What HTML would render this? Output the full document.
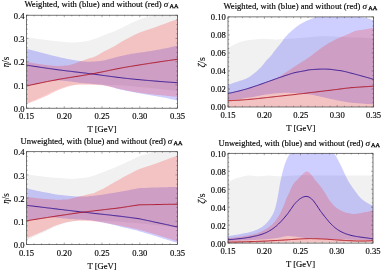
<!DOCTYPE html>
<html><head><meta charset="utf-8"><title>plots</title>
<style>
html,body{margin:0;padding:0;background:#fff;}
svg{display:block;will-change:transform;}
text{font-family:"Liberation Serif",serif;fill:#000;stroke:#000;stroke-width:0.14px;}
.tl{font-size:8.6px;}
.xl{font-size:8.6px;}
.yl{font-size:10px;stroke-width:0.1px;}
.tt{font-size:8.45px;}
.sg{font-size:9px;font-style:italic;}
.aa{font-size:6px;stroke-width:0.25px;}
</style></head><body>
<svg width="382" height="272" viewBox="0 0 382 272">
<rect width="382" height="272" fill="#fff"/>
<clipPath id="c26515"><rect x="26.5" y="15.2" width="151.0" height="93.0"/></clipPath>
<g clip-path="url(#c26515)">
<path d="M26.5,37.1 L27.5,37.3 L28.4,37.4 L29.4,37.6 L30.3,37.7 L31.3,37.9 L32.2,38.0 L33.2,38.2 L34.1,38.3 L35.1,38.5 L36.0,38.6 L37.0,38.8 L37.9,38.9 L38.9,39.0 L39.8,39.2 L40.8,39.3 L41.7,39.4 L42.7,39.6 L43.7,39.7 L44.6,39.8 L45.6,39.9 L46.5,40.1 L47.5,40.2 L48.4,40.3 L49.4,40.4 L50.3,40.5 L51.3,40.6 L52.2,40.7 L53.2,40.9 L54.1,41.0 L55.1,41.1 L56.0,41.2 L57.0,41.3 L57.9,41.3 L58.9,41.4 L59.8,41.5 L60.8,41.6 L61.8,41.7 L62.7,41.8 L63.7,41.9 L64.6,42.0 L65.6,42.1 L66.5,42.2 L67.5,42.3 L68.4,42.4 L69.4,42.4 L70.3,42.5 L71.3,42.5 L72.2,42.5 L73.2,42.5 L74.1,42.5 L75.1,42.4 L76.0,42.4 L77.0,42.3 L78.0,42.2 L78.9,42.1 L79.9,42.0 L80.8,41.9 L81.8,41.8 L82.7,41.7 L83.7,41.5 L84.6,41.4 L85.6,41.3 L86.5,41.1 L87.5,40.9 L88.4,40.7 L89.4,40.4 L90.3,40.2 L91.3,39.9 L92.2,39.6 L93.2,39.3 L94.2,39.1 L95.1,38.7 L96.1,38.4 L97.0,38.0 L98.0,37.7 L98.9,37.3 L99.9,36.9 L100.8,36.5 L101.8,36.0 L102.7,35.6 L103.7,35.3 L104.6,34.9 L105.6,34.5 L106.5,34.2 L107.5,33.8 L108.4,33.5 L109.4,33.1 L110.3,32.8 L111.3,32.4 L112.3,32.1 L113.2,31.7 L114.2,31.3 L115.1,30.9 L116.1,30.5 L117.0,30.1 L118.0,29.6 L118.9,29.2 L119.9,28.8 L120.8,28.3 L121.8,27.9 L122.7,27.4 L123.7,26.9 L124.6,26.5 L125.6,26.0 L126.5,25.5 L127.5,25.1 L128.5,24.6 L129.4,24.1 L130.4,23.6 L131.3,23.1 L132.3,22.6 L133.2,22.2 L134.2,21.8 L135.1,21.3 L136.1,20.9 L137.0,20.5 L138.0,20.1 L138.9,19.8 L139.9,19.4 L140.8,19.1 L141.8,18.7 L142.7,18.4 L143.7,18.1 L144.7,17.8 L145.6,17.5 L146.6,17.3 L147.5,17.0 L148.5,16.7 L149.4,16.3 L150.4,16.0 L151.3,15.7 L152.3,15.4 L153.2,15.1 L154.2,14.8 L155.1,14.4 L156.1,14.1 L157.0,13.7 L158.0,13.4 L158.9,13.0 L159.9,12.7 L160.8,12.3 L161.8,12.0 L162.8,11.7 L163.7,11.4 L164.7,11.1 L165.6,10.8 L166.6,10.6 L167.5,10.3 L168.5,10.1 L169.4,9.8 L170.4,9.6 L171.3,9.4 L172.3,9.1 L173.2,8.9 L174.2,8.7 L175.1,8.5 L176.1,8.3 L177.0,8.2 L178.0,8.0 L178.0,91.1 L177.0,91.0 L176.1,90.9 L175.1,90.8 L174.2,90.6 L173.2,90.5 L172.3,90.4 L171.3,90.3 L170.4,90.2 L169.4,90.1 L168.5,90.0 L167.5,89.9 L166.6,89.8 L165.6,89.7 L164.7,89.5 L163.7,89.4 L162.8,89.3 L161.8,89.2 L160.8,89.1 L159.9,89.0 L158.9,88.9 L158.0,88.8 L157.0,88.7 L156.1,88.6 L155.1,88.5 L154.2,88.4 L153.2,88.3 L152.3,88.2 L151.3,88.1 L150.4,88.0 L149.4,87.9 L148.5,87.8 L147.5,87.7 L146.6,87.7 L145.6,87.6 L144.7,87.5 L143.7,87.4 L142.7,87.3 L141.8,87.2 L140.8,87.1 L139.9,87.0 L138.9,86.9 L138.0,86.8 L137.0,86.7 L136.1,86.6 L135.1,86.5 L134.2,86.4 L133.2,86.3 L132.3,86.2 L131.3,86.1 L130.4,86.0 L129.4,86.0 L128.5,85.9 L127.5,85.8 L126.5,85.7 L125.6,85.7 L124.6,85.6 L123.7,85.5 L122.7,85.5 L121.8,85.4 L120.8,85.3 L119.9,85.3 L118.9,85.2 L118.0,85.2 L117.0,85.2 L116.1,85.1 L115.1,85.1 L114.2,85.0 L113.2,85.0 L112.3,85.0 L111.3,84.9 L110.3,84.9 L109.4,84.9 L108.4,84.8 L107.5,84.8 L106.5,84.8 L105.6,84.7 L104.6,84.7 L103.7,84.7 L102.7,84.6 L101.8,84.6 L100.8,84.5 L99.9,84.5 L98.9,84.5 L98.0,84.4 L97.0,84.4 L96.1,84.3 L95.1,84.3 L94.2,84.2 L93.2,84.2 L92.2,84.1 L91.3,84.1 L90.3,84.0 L89.4,84.0 L88.4,83.9 L87.5,83.9 L86.5,83.8 L85.6,83.8 L84.6,83.8 L83.7,83.8 L82.7,83.9 L81.8,84.0 L80.8,84.1 L79.9,84.2 L78.9,84.3 L78.0,84.4 L77.0,84.5 L76.0,84.6 L75.1,84.7 L74.1,84.8 L73.2,84.9 L72.2,85.1 L71.3,85.2 L70.3,85.4 L69.4,85.6 L68.4,85.8 L67.5,86.1 L66.5,86.3 L65.6,86.6 L64.6,86.9 L63.7,87.2 L62.7,87.5 L61.8,87.8 L60.8,88.2 L59.8,88.5 L58.9,88.9 L57.9,89.2 L57.0,89.6 L56.0,90.0 L55.1,90.3 L54.1,90.7 L53.2,91.2 L52.2,91.6 L51.3,92.1 L50.3,92.6 L49.4,93.1 L48.4,93.6 L47.5,94.1 L46.5,94.6 L45.6,95.1 L44.6,95.5 L43.7,95.9 L42.7,96.4 L41.7,96.8 L40.8,97.3 L39.8,97.7 L38.9,98.1 L37.9,98.5 L37.0,99.0 L36.0,99.4 L35.1,99.8 L34.1,100.3 L33.2,100.7 L32.2,101.1 L31.3,101.6 L30.3,102.0 L29.4,102.4 L28.4,102.9 L27.5,103.3 L26.5,103.7Z" fill="#f1f1f1"/>
<path d="M26.5,48.7 L27.5,49.0 L28.4,49.2 L29.4,49.5 L30.3,49.7 L31.3,50.0 L32.2,50.3 L33.2,50.5 L34.1,50.8 L35.1,51.0 L36.0,51.3 L37.0,51.5 L37.9,51.8 L38.9,52.0 L39.8,52.3 L40.8,52.5 L41.7,52.8 L42.7,53.0 L43.7,53.3 L44.6,53.5 L45.6,53.8 L46.5,54.0 L47.5,54.2 L48.4,54.5 L49.4,54.7 L50.3,55.0 L51.3,55.2 L52.2,55.5 L53.2,55.7 L54.1,55.9 L55.1,56.1 L56.0,56.4 L57.0,56.6 L57.9,56.8 L58.9,57.0 L59.8,57.2 L60.8,57.4 L61.8,57.7 L62.7,57.9 L63.7,58.1 L64.6,58.3 L65.6,58.5 L66.5,58.7 L67.5,58.9 L68.4,59.1 L69.4,59.3 L70.3,59.4 L71.3,59.6 L72.2,59.8 L73.2,59.9 L74.1,60.1 L75.1,60.2 L76.0,60.4 L77.0,60.5 L78.0,60.7 L78.9,60.8 L79.9,61.0 L80.8,61.1 L81.8,61.2 L82.7,61.4 L83.7,61.5 L84.6,61.5 L85.6,61.6 L86.5,61.7 L87.5,61.7 L88.4,61.7 L89.4,61.7 L90.3,61.7 L91.3,61.6 L92.2,61.6 L93.2,61.5 L94.2,61.5 L95.1,61.4 L96.1,61.3 L97.0,61.3 L98.0,61.2 L98.9,61.1 L99.9,61.0 L100.8,60.9 L101.8,60.8 L102.7,60.6 L103.7,60.4 L104.6,60.2 L105.6,59.9 L106.5,59.7 L107.5,59.4 L108.4,59.2 L109.4,58.9 L110.3,58.7 L111.3,58.5 L112.3,58.2 L113.2,58.0 L114.2,57.7 L115.1,57.5 L116.1,57.3 L117.0,57.0 L118.0,56.8 L118.9,56.6 L119.9,56.3 L120.8,56.1 L121.8,55.9 L122.7,55.6 L123.7,55.4 L124.6,55.2 L125.6,55.0 L126.5,54.8 L127.5,54.6 L128.5,54.4 L129.4,54.2 L130.4,54.0 L131.3,53.8 L132.3,53.7 L133.2,53.5 L134.2,53.4 L135.1,53.2 L136.1,53.1 L137.0,52.9 L138.0,52.8 L138.9,52.7 L139.9,52.6 L140.8,52.4 L141.8,52.3 L142.7,52.2 L143.7,52.0 L144.7,51.9 L145.6,51.8 L146.6,51.6 L147.5,51.5 L148.5,51.3 L149.4,51.2 L150.4,51.0 L151.3,50.9 L152.3,50.7 L153.2,50.5 L154.2,50.4 L155.1,50.2 L156.1,50.0 L157.0,49.9 L158.0,49.7 L158.9,49.5 L159.9,49.4 L160.8,49.2 L161.8,49.0 L162.8,48.8 L163.7,48.6 L164.7,48.5 L165.6,48.3 L166.6,48.1 L167.5,47.9 L168.5,47.7 L169.4,47.5 L170.4,47.2 L171.3,47.0 L172.3,46.8 L173.2,46.6 L174.2,46.4 L175.1,46.1 L176.1,45.9 L177.0,45.6 L178.0,45.4 L178.0,100.8 L177.0,100.6 L176.1,100.3 L175.1,100.1 L174.2,99.8 L173.2,99.6 L172.3,99.4 L171.3,99.2 L170.4,98.9 L169.4,98.7 L168.5,98.5 L167.5,98.3 L166.6,98.1 L165.6,97.9 L164.7,97.8 L163.7,97.6 L162.8,97.4 L161.8,97.2 L160.8,97.1 L159.9,96.9 L158.9,96.7 L158.0,96.6 L157.0,96.4 L156.1,96.3 L155.1,96.1 L154.2,95.9 L153.2,95.8 L152.3,95.6 L151.3,95.4 L150.4,95.2 L149.4,95.1 L148.5,94.9 L147.5,94.7 L146.6,94.6 L145.6,94.4 L144.7,94.2 L143.7,94.1 L142.7,93.9 L141.8,93.7 L140.8,93.6 L139.9,93.4 L138.9,93.2 L138.0,93.0 L137.0,92.9 L136.1,92.7 L135.1,92.5 L134.2,92.3 L133.2,92.2 L132.3,92.0 L131.3,91.8 L130.4,91.6 L129.4,91.5 L128.5,91.3 L127.5,91.1 L126.5,90.9 L125.6,90.7 L124.6,90.5 L123.7,90.3 L122.7,90.1 L121.8,89.9 L120.8,89.7 L119.9,89.5 L118.9,89.2 L118.0,89.0 L117.0,88.7 L116.1,88.4 L115.1,88.1 L114.2,87.7 L113.2,87.4 L112.3,87.2 L111.3,86.9 L110.3,86.6 L109.4,86.4 L108.4,86.1 L107.5,85.9 L106.5,85.7 L105.6,85.5 L104.6,85.3 L103.7,85.1 L102.7,84.9 L101.8,84.8 L100.8,84.7 L99.9,84.6 L98.9,84.5 L98.0,84.4 L97.0,84.3 L96.1,84.2 L95.1,84.1 L94.2,84.0 L93.2,84.0 L92.2,83.9 L91.3,83.8 L90.3,83.7 L89.4,83.6 L88.4,83.6 L87.5,83.5 L86.5,83.4 L85.6,83.4 L84.6,83.3 L83.7,83.2 L82.7,83.1 L81.8,83.0 L80.8,83.0 L79.9,82.9 L78.9,82.8 L78.0,82.6 L77.0,82.5 L76.0,82.3 L75.1,82.2 L74.1,82.0 L73.2,81.9 L72.2,81.7 L71.3,81.6 L70.3,81.5 L69.4,81.4 L68.4,81.3 L67.5,81.2 L66.5,81.1 L65.6,81.0 L64.6,80.9 L63.7,80.8 L62.7,80.7 L61.8,80.6 L60.8,80.5 L59.8,80.5 L58.9,80.5 L57.9,80.5 L57.0,80.6 L56.0,80.6 L55.1,80.7 L54.1,80.7 L53.2,80.8 L52.2,80.9 L51.3,81.0 L50.3,81.1 L49.4,81.3 L48.4,81.4 L47.5,81.6 L46.5,81.8 L45.6,82.0 L44.6,82.3 L43.7,82.5 L42.7,82.7 L41.7,82.9 L40.8,83.1 L39.8,83.3 L38.9,83.5 L37.9,83.7 L37.0,83.9 L36.0,84.1 L35.1,84.3 L34.1,84.5 L33.2,84.7 L32.2,84.9 L31.3,85.1 L30.3,85.3 L29.4,85.6 L28.4,85.8 L27.5,86.0 L26.5,86.2Z" fill="#0000ff" fill-opacity="0.19"/>
<path d="M26.5,61.8 L27.5,62.0 L28.4,62.2 L29.4,62.4 L30.3,62.6 L31.3,62.7 L32.2,62.9 L33.2,63.1 L34.1,63.3 L35.1,63.4 L36.0,63.6 L37.0,63.8 L37.9,63.9 L38.9,64.0 L39.8,64.2 L40.8,64.3 L41.7,64.4 L42.7,64.6 L43.7,64.7 L44.6,64.8 L45.6,64.9 L46.5,65.0 L47.5,65.2 L48.4,65.3 L49.4,65.4 L50.3,65.5 L51.3,65.6 L52.2,65.7 L53.2,65.7 L54.1,65.8 L55.1,65.8 L56.0,65.9 L57.0,65.9 L57.9,65.9 L58.9,65.9 L59.8,65.9 L60.8,65.8 L61.8,65.8 L62.7,65.7 L63.7,65.7 L64.6,65.6 L65.6,65.6 L66.5,65.5 L67.5,65.4 L68.4,65.3 L69.4,65.1 L70.3,64.9 L71.3,64.6 L72.2,64.3 L73.2,64.0 L74.1,63.7 L75.1,63.3 L76.0,62.9 L77.0,62.6 L78.0,62.2 L78.9,61.9 L79.9,61.6 L80.8,61.2 L81.8,60.9 L82.7,60.6 L83.7,60.2 L84.6,59.9 L85.6,59.5 L86.5,59.2 L87.5,58.9 L88.4,58.6 L89.4,58.3 L90.3,58.0 L91.3,57.8 L92.2,57.5 L93.2,57.2 L94.2,56.8 L95.1,56.4 L96.1,56.0 L97.0,55.5 L98.0,55.0 L98.9,54.4 L99.9,53.8 L100.8,53.3 L101.8,52.7 L102.7,52.2 L103.7,51.6 L104.6,51.1 L105.6,50.6 L106.5,50.2 L107.5,49.7 L108.4,49.2 L109.4,48.8 L110.3,48.3 L111.3,47.8 L112.3,47.3 L113.2,46.8 L114.2,46.3 L115.1,45.8 L116.1,45.2 L117.0,44.6 L118.0,44.0 L118.9,43.4 L119.9,42.8 L120.8,42.2 L121.8,41.6 L122.7,41.0 L123.7,40.5 L124.6,40.0 L125.6,39.4 L126.5,39.0 L127.5,38.5 L128.5,38.0 L129.4,37.5 L130.4,37.0 L131.3,36.5 L132.3,36.0 L133.2,35.5 L134.2,35.1 L135.1,34.6 L136.1,34.1 L137.0,33.7 L138.0,33.2 L138.9,32.8 L139.9,32.4 L140.8,32.0 L141.8,31.7 L142.7,31.4 L143.7,31.0 L144.7,30.7 L145.6,30.4 L146.6,30.1 L147.5,29.8 L148.5,29.5 L149.4,29.2 L150.4,28.9 L151.3,28.5 L152.3,28.2 L153.2,27.9 L154.2,27.6 L155.1,27.2 L156.1,26.9 L157.0,26.5 L158.0,26.2 L158.9,25.8 L159.9,25.5 L160.8,25.1 L161.8,24.8 L162.8,24.4 L163.7,24.1 L164.7,23.7 L165.6,23.4 L166.6,23.0 L167.5,22.7 L168.5,22.3 L169.4,22.0 L170.4,21.6 L171.3,21.3 L172.3,20.9 L173.2,20.6 L174.2,20.2 L175.1,19.9 L176.1,19.5 L177.0,19.2 L178.0,18.8 L178.0,97.0 L177.0,96.9 L176.1,96.8 L175.1,96.7 L174.2,96.6 L173.2,96.5 L172.3,96.4 L171.3,96.3 L170.4,96.2 L169.4,96.1 L168.5,96.0 L167.5,95.9 L166.6,95.8 L165.6,95.7 L164.7,95.6 L163.7,95.5 L162.8,95.4 L161.8,95.3 L160.8,95.2 L159.9,95.1 L158.9,95.0 L158.0,95.0 L157.0,94.9 L156.1,94.8 L155.1,94.7 L154.2,94.6 L153.2,94.5 L152.3,94.4 L151.3,94.3 L150.4,94.1 L149.4,94.0 L148.5,93.9 L147.5,93.8 L146.6,93.7 L145.6,93.6 L144.7,93.4 L143.7,93.3 L142.7,93.2 L141.8,93.0 L140.8,92.9 L139.9,92.8 L138.9,92.6 L138.0,92.5 L137.0,92.3 L136.1,92.2 L135.1,92.0 L134.2,91.9 L133.2,91.7 L132.3,91.5 L131.3,91.3 L130.4,91.2 L129.4,91.0 L128.5,90.8 L127.5,90.6 L126.5,90.4 L125.6,90.2 L124.6,90.0 L123.7,89.8 L122.7,89.6 L121.8,89.4 L120.8,89.2 L119.9,89.0 L118.9,88.8 L118.0,88.6 L117.0,88.4 L116.1,88.2 L115.1,87.9 L114.2,87.7 L113.2,87.5 L112.3,87.3 L111.3,87.1 L110.3,86.9 L109.4,86.7 L108.4,86.5 L107.5,86.3 L106.5,86.1 L105.6,85.9 L104.6,85.7 L103.7,85.5 L102.7,85.4 L101.8,85.3 L100.8,85.2 L99.9,85.2 L98.9,85.1 L98.0,85.1 L97.0,85.0 L96.1,85.0 L95.1,84.9 L94.2,84.9 L93.2,84.9 L92.2,84.8 L91.3,84.8 L90.3,84.8 L89.4,84.8 L88.4,84.8 L87.5,84.8 L86.5,84.8 L85.6,84.7 L84.6,84.7 L83.7,84.7 L82.7,84.7 L81.8,84.7 L80.8,84.7 L79.9,84.7 L78.9,84.7 L78.0,84.8 L77.0,84.8 L76.0,85.0 L75.1,85.1 L74.1,85.3 L73.2,85.4 L72.2,85.6 L71.3,85.8 L70.3,86.0 L69.4,86.3 L68.4,86.5 L67.5,86.8 L66.5,87.1 L65.6,87.4 L64.6,87.8 L63.7,88.1 L62.7,88.5 L61.8,88.8 L60.8,89.1 L59.8,89.5 L58.9,89.9 L57.9,90.3 L57.0,90.7 L56.0,91.2 L55.1,91.6 L54.1,92.1 L53.2,92.6 L52.2,93.0 L51.3,93.5 L50.3,94.0 L49.4,94.5 L48.4,95.0 L47.5,95.4 L46.5,95.9 L45.6,96.3 L44.6,96.7 L43.7,97.2 L42.7,97.6 L41.7,98.0 L40.8,98.4 L39.8,98.8 L38.9,99.2 L37.9,99.6 L37.0,100.0 L36.0,100.4 L35.1,100.8 L34.1,101.1 L33.2,101.5 L32.2,101.8 L31.3,102.2 L30.3,102.5 L29.4,102.8 L28.4,103.2 L27.5,103.5 L26.5,103.8Z" fill="#ff0000" fill-opacity="0.19"/>
<path d="M26.5,65.1 L27.5,65.3 L28.4,65.4 L29.4,65.6 L30.3,65.7 L31.3,65.9 L32.2,66.0 L33.2,66.2 L34.1,66.3 L35.1,66.5 L36.0,66.6 L37.0,66.7 L37.9,66.9 L38.9,67.0 L39.8,67.2 L40.8,67.3 L41.7,67.5 L42.7,67.6 L43.7,67.7 L44.6,67.9 L45.6,68.0 L46.5,68.2 L47.5,68.3 L48.4,68.4 L49.4,68.6 L50.3,68.7 L51.3,68.8 L52.2,69.0 L53.2,69.1 L54.1,69.2 L55.1,69.4 L56.0,69.5 L57.0,69.6 L57.9,69.8 L58.9,69.9 L59.8,70.0 L60.8,70.1 L61.8,70.3 L62.7,70.4 L63.7,70.5 L64.6,70.6 L65.6,70.7 L66.5,70.9 L67.5,71.0 L68.4,71.1 L69.4,71.2 L70.3,71.3 L71.3,71.4 L72.2,71.5 L73.2,71.7 L74.1,71.8 L75.1,71.9 L76.0,72.0 L77.0,72.1 L78.0,72.2 L78.9,72.3 L79.9,72.5 L80.8,72.6 L81.8,72.7 L82.7,72.8 L83.7,72.9 L84.6,73.0 L85.6,73.1 L86.5,73.2 L87.5,73.4 L88.4,73.5 L89.4,73.6 L90.3,73.7 L91.3,73.8 L92.2,74.0 L93.2,74.1 L94.2,74.2 L95.1,74.3 L96.1,74.5 L97.0,74.6 L98.0,74.7 L98.9,74.8 L99.9,75.0 L100.8,75.1 L101.8,75.2 L102.7,75.4 L103.7,75.5 L104.6,75.6 L105.6,75.7 L106.5,75.9 L107.5,76.0 L108.4,76.1 L109.4,76.3 L110.3,76.4 L111.3,76.5 L112.3,76.6 L113.2,76.8 L114.2,76.9 L115.1,77.0 L116.1,77.1 L117.0,77.3 L118.0,77.4 L118.9,77.5 L119.9,77.6 L120.8,77.7 L121.8,77.8 L122.7,78.0 L123.7,78.1 L124.6,78.2 L125.6,78.3 L126.5,78.4 L127.5,78.5 L128.5,78.6 L129.4,78.7 L130.4,78.8 L131.3,78.9 L132.3,79.0 L133.2,79.1 L134.2,79.2 L135.1,79.3 L136.1,79.4 L137.0,79.5 L138.0,79.6 L138.9,79.6 L139.9,79.7 L140.8,79.8 L141.8,79.9 L142.7,80.0 L143.7,80.1 L144.7,80.2 L145.6,80.3 L146.6,80.3 L147.5,80.4 L148.5,80.5 L149.4,80.6 L150.4,80.7 L151.3,80.7 L152.3,80.8 L153.2,80.9 L154.2,81.0 L155.1,81.1 L156.1,81.1 L157.0,81.2 L158.0,81.3 L158.9,81.4 L159.9,81.5 L160.8,81.5 L161.8,81.6 L162.8,81.7 L163.7,81.7 L164.7,81.8 L165.6,81.9 L166.6,82.0 L167.5,82.0 L168.5,82.1 L169.4,82.2 L170.4,82.2 L171.3,82.3 L172.3,82.4 L173.2,82.4 L174.2,82.5 L175.1,82.6 L176.1,82.6 L177.0,82.7 L178.0,82.7" fill="none" stroke="#2c1090" stroke-width="0.9"/>
<path d="M26.5,86.0 L27.5,85.8 L28.4,85.6 L29.4,85.4 L30.3,85.1 L31.3,84.9 L32.2,84.7 L33.2,84.5 L34.1,84.3 L35.1,84.1 L36.0,83.9 L37.0,83.7 L37.9,83.5 L38.9,83.3 L39.8,83.1 L40.8,82.9 L41.7,82.7 L42.7,82.5 L43.7,82.3 L44.6,82.1 L45.6,81.9 L46.5,81.7 L47.5,81.5 L48.4,81.3 L49.4,81.2 L50.3,81.0 L51.3,80.8 L52.2,80.6 L53.2,80.4 L54.1,80.2 L55.1,80.1 L56.0,79.9 L57.0,79.7 L57.9,79.5 L58.9,79.3 L59.8,79.2 L60.8,79.0 L61.8,78.8 L62.7,78.7 L63.7,78.5 L64.6,78.4 L65.6,78.2 L66.5,78.0 L67.5,77.9 L68.4,77.7 L69.4,77.6 L70.3,77.4 L71.3,77.3 L72.2,77.1 L73.2,77.0 L74.1,76.8 L75.1,76.7 L76.0,76.5 L77.0,76.4 L78.0,76.2 L78.9,76.1 L79.9,75.9 L80.8,75.8 L81.8,75.6 L82.7,75.5 L83.7,75.3 L84.6,75.1 L85.6,75.0 L86.5,74.8 L87.5,74.7 L88.4,74.5 L89.4,74.3 L90.3,74.2 L91.3,74.0 L92.2,73.8 L93.2,73.6 L94.2,73.5 L95.1,73.3 L96.1,73.1 L97.0,72.9 L98.0,72.7 L98.9,72.5 L99.9,72.3 L100.8,72.2 L101.8,72.0 L102.7,71.8 L103.7,71.6 L104.6,71.4 L105.6,71.2 L106.5,71.0 L107.5,70.8 L108.4,70.6 L109.4,70.4 L110.3,70.2 L111.3,70.0 L112.3,69.8 L113.2,69.6 L114.2,69.4 L115.1,69.2 L116.1,69.0 L117.0,68.8 L118.0,68.6 L118.9,68.5 L119.9,68.3 L120.8,68.1 L121.8,67.9 L122.7,67.7 L123.7,67.6 L124.6,67.4 L125.6,67.2 L126.5,67.1 L127.5,66.9 L128.5,66.7 L129.4,66.6 L130.4,66.4 L131.3,66.3 L132.3,66.1 L133.2,66.0 L134.2,65.8 L135.1,65.6 L136.1,65.5 L137.0,65.3 L138.0,65.2 L138.9,65.0 L139.9,64.9 L140.8,64.7 L141.8,64.6 L142.7,64.4 L143.7,64.3 L144.7,64.1 L145.6,64.0 L146.6,63.8 L147.5,63.7 L148.5,63.5 L149.4,63.4 L150.4,63.2 L151.3,63.1 L152.3,62.9 L153.2,62.8 L154.2,62.7 L155.1,62.5 L156.1,62.4 L157.0,62.2 L158.0,62.1 L158.9,61.9 L159.9,61.8 L160.8,61.6 L161.8,61.5 L162.8,61.4 L163.7,61.2 L164.7,61.1 L165.6,60.9 L166.6,60.8 L167.5,60.7 L168.5,60.5 L169.4,60.4 L170.4,60.3 L171.3,60.1 L172.3,60.0 L173.2,59.9 L174.2,59.7 L175.1,59.6 L176.1,59.5 L177.0,59.3 L178.0,59.2" fill="none" stroke="#aa0a18" stroke-width="0.9"/>
</g>
<rect x="26.5" y="15.2" width="151.0" height="93.0" fill="none" stroke="#3a3a3a" stroke-width="0.7"/>
<path d="M26.50,108.2 v-2.0 M26.50,15.2 v2.0 M34.05,108.2 v-1.2 M34.05,15.2 v1.2 M41.60,108.2 v-1.2 M41.60,15.2 v1.2 M49.15,108.2 v-1.2 M49.15,15.2 v1.2 M56.70,108.2 v-1.2 M56.70,15.2 v1.2 M64.25,108.2 v-2.0 M64.25,15.2 v2.0 M71.80,108.2 v-1.2 M71.80,15.2 v1.2 M79.35,108.2 v-1.2 M79.35,15.2 v1.2 M86.90,108.2 v-1.2 M86.90,15.2 v1.2 M94.45,108.2 v-1.2 M94.45,15.2 v1.2 M102.00,108.2 v-2.0 M102.00,15.2 v2.0 M109.55,108.2 v-1.2 M109.55,15.2 v1.2 M117.10,108.2 v-1.2 M117.10,15.2 v1.2 M124.65,108.2 v-1.2 M124.65,15.2 v1.2 M132.20,108.2 v-1.2 M132.20,15.2 v1.2 M139.75,108.2 v-2.0 M139.75,15.2 v2.0 M147.30,108.2 v-1.2 M147.30,15.2 v1.2 M154.85,108.2 v-1.2 M154.85,15.2 v1.2 M162.40,108.2 v-1.2 M162.40,15.2 v1.2 M169.95,108.2 v-1.2 M169.95,15.2 v1.2 M177.50,108.2 v-2.0 M177.50,15.2 v2.0 M26.5,108.20 h2.0 M177.5,108.20 h-2.0 M26.5,103.55 h1.2 M177.5,103.55 h-1.2 M26.5,98.90 h1.2 M177.5,98.90 h-1.2 M26.5,94.25 h1.2 M177.5,94.25 h-1.2 M26.5,89.60 h1.2 M177.5,89.60 h-1.2 M26.5,84.95 h2.0 M177.5,84.95 h-2.0 M26.5,80.30 h1.2 M177.5,80.30 h-1.2 M26.5,75.65 h1.2 M177.5,75.65 h-1.2 M26.5,71.00 h1.2 M177.5,71.00 h-1.2 M26.5,66.35 h1.2 M177.5,66.35 h-1.2 M26.5,61.70 h2.0 M177.5,61.70 h-2.0 M26.5,57.05 h1.2 M177.5,57.05 h-1.2 M26.5,52.40 h1.2 M177.5,52.40 h-1.2 M26.5,47.75 h1.2 M177.5,47.75 h-1.2 M26.5,43.10 h1.2 M177.5,43.10 h-1.2 M26.5,38.45 h2.0 M177.5,38.45 h-2.0 M26.5,33.80 h1.2 M177.5,33.80 h-1.2 M26.5,29.15 h1.2 M177.5,29.15 h-1.2 M26.5,24.50 h1.2 M177.5,24.50 h-1.2 M26.5,19.85 h1.2 M177.5,19.85 h-1.2 M26.5,15.20 h2.0 M177.5,15.20 h-2.0" stroke="#333" stroke-width="0.4" fill="none"/>
<text x="24.6" y="111.9" text-anchor="end" class="tl">0.0</text>
<text x="24.6" y="88.7" text-anchor="end" class="tl">0.1</text>
<text x="24.6" y="65.4" text-anchor="end" class="tl">0.2</text>
<text x="24.6" y="42.2" text-anchor="end" class="tl">0.3</text>
<text x="24.6" y="18.9" text-anchor="end" class="tl">0.4</text>
<text x="26.5" y="119.2" text-anchor="middle" class="tl">0.15</text>
<text x="64.2" y="119.2" text-anchor="middle" class="tl">0.20</text>
<text x="102.0" y="119.2" text-anchor="middle" class="tl">0.25</text>
<text x="139.8" y="119.2" text-anchor="middle" class="tl">0.30</text>
<text x="177.5" y="119.2" text-anchor="middle" class="tl">0.35</text>
<text x="102.0" y="132.2" text-anchor="middle" class="xl">T [GeV]</text>
<text transform="translate(8.9,62.1) rotate(-90)" class="yl" text-anchor="middle" textLength="10.4" lengthAdjust="spacingAndGlyphs"><tspan font-style="italic">η</tspan>/s</text>
<text x="24.4" y="7.4" class="tt" textLength="137.3" lengthAdjust="spacingAndGlyphs">Weighted, with (blue) and without (red)</text>
<text x="163.7" y="7.4" class="sg">σ</text>
<text x="169.4" y="8.4" class="aa" textLength="9" lengthAdjust="spacingAndGlyphs">AA</text>
<clipPath id="c228016"><rect x="228" y="16.9" width="145.60000000000002" height="90.1"/></clipPath>
<g clip-path="url(#c228016)">
<path d="M228.0,48.3 L228.9,47.7 L229.8,47.1 L230.8,46.5 L231.7,45.9 L232.6,45.4 L233.5,44.9 L234.4,44.5 L235.3,44.1 L236.3,43.6 L237.2,43.2 L238.1,42.8 L239.0,42.5 L239.9,42.1 L240.9,41.9 L241.8,41.6 L242.7,41.4 L243.6,41.1 L244.5,40.9 L245.4,40.8 L246.4,40.6 L247.3,40.4 L248.2,40.3 L249.1,40.1 L250.0,40.0 L251.0,39.9 L251.9,39.8 L252.8,39.7 L253.7,39.5 L254.6,39.4 L255.5,39.3 L256.5,39.2 L257.4,39.1 L258.3,39.0 L259.2,39.0 L260.1,38.9 L261.1,38.9 L262.0,38.8 L262.9,38.8 L263.8,38.8 L264.7,38.8 L265.6,38.9 L266.6,38.9 L267.5,39.0 L268.4,39.0 L269.3,39.1 L270.2,39.2 L271.2,39.2 L272.1,39.3 L273.0,39.3 L273.9,39.4 L274.8,39.4 L275.7,39.4 L276.7,39.4 L277.6,39.4 L278.5,39.3 L279.4,39.3 L280.3,39.3 L281.3,39.2 L282.2,39.2 L283.1,39.1 L284.0,39.1 L284.9,39.0 L285.8,39.0 L286.8,38.9 L287.7,38.9 L288.6,38.8 L289.5,38.7 L290.4,38.7 L291.4,38.6 L292.3,38.6 L293.2,38.5 L294.1,38.4 L295.0,38.4 L295.9,38.3 L296.9,38.2 L297.8,38.2 L298.7,38.1 L299.6,38.0 L300.5,37.9 L301.5,37.9 L302.4,37.8 L303.3,37.7 L304.2,37.7 L305.1,37.6 L306.1,37.5 L307.0,37.4 L307.9,37.4 L308.8,37.3 L309.7,37.2 L310.6,37.1 L311.6,37.0 L312.5,36.9 L313.4,36.8 L314.3,36.7 L315.2,36.6 L316.2,36.6 L317.1,36.5 L318.0,36.4 L318.9,36.4 L319.8,36.3 L320.7,36.3 L321.7,36.2 L322.6,36.2 L323.5,36.2 L324.4,36.2 L325.3,36.2 L326.3,36.2 L327.2,36.3 L328.1,36.3 L329.0,36.3 L329.9,36.4 L330.8,36.4 L331.8,36.4 L332.7,36.5 L333.6,36.5 L334.5,36.6 L335.4,36.6 L336.4,36.7 L337.3,36.7 L338.2,36.7 L339.1,36.8 L340.0,36.9 L340.9,36.9 L341.9,37.0 L342.8,37.0 L343.7,37.1 L344.6,37.1 L345.5,37.2 L346.5,37.2 L347.4,37.3 L348.3,37.3 L349.2,37.3 L350.1,37.4 L351.0,37.4 L352.0,37.4 L352.9,37.5 L353.8,37.5 L354.7,37.5 L355.6,37.6 L356.6,37.6 L357.5,37.6 L358.4,37.7 L359.3,37.7 L360.2,37.7 L361.1,37.7 L362.1,37.8 L363.0,37.8 L363.9,37.8 L364.8,37.8 L365.7,37.9 L366.7,37.9 L367.6,37.9 L368.5,37.9 L369.4,37.9 L370.3,38.0 L371.2,38.0 L372.2,38.0 L373.1,38.0 L374.0,38.0 L374.0,106.6 L373.1,106.6 L372.2,106.6 L371.2,106.6 L370.3,106.6 L369.4,106.6 L368.5,106.6 L367.6,106.6 L366.7,106.6 L365.7,106.6 L364.8,106.6 L363.9,106.6 L363.0,106.6 L362.1,106.6 L361.1,106.6 L360.2,106.6 L359.3,106.6 L358.4,106.6 L357.5,106.6 L356.6,106.6 L355.6,106.6 L354.7,106.6 L353.8,106.6 L352.9,106.6 L352.0,106.6 L351.0,106.6 L350.1,106.6 L349.2,106.6 L348.3,106.6 L347.4,106.6 L346.5,106.6 L345.5,106.6 L344.6,106.6 L343.7,106.6 L342.8,106.6 L341.9,106.6 L340.9,106.6 L340.0,106.6 L339.1,106.6 L338.2,106.6 L337.3,106.6 L336.4,106.6 L335.4,106.6 L334.5,106.6 L333.6,106.6 L332.7,106.6 L331.8,106.6 L330.8,106.6 L329.9,106.6 L329.0,106.6 L328.1,106.6 L327.2,106.6 L326.3,106.6 L325.3,106.6 L324.4,106.6 L323.5,106.6 L322.6,106.6 L321.7,106.6 L320.7,106.6 L319.8,106.6 L318.9,106.6 L318.0,106.6 L317.1,106.6 L316.2,106.6 L315.2,106.6 L314.3,106.6 L313.4,106.6 L312.5,106.6 L311.6,106.6 L310.6,106.6 L309.7,106.6 L308.8,106.6 L307.9,106.6 L307.0,106.6 L306.1,106.6 L305.1,106.6 L304.2,106.6 L303.3,106.6 L302.4,106.6 L301.5,106.6 L300.5,106.6 L299.6,106.6 L298.7,106.6 L297.8,106.6 L296.9,106.6 L295.9,106.6 L295.0,106.6 L294.1,106.6 L293.2,106.6 L292.3,106.6 L291.4,106.6 L290.4,106.6 L289.5,106.6 L288.6,106.6 L287.7,106.6 L286.8,106.6 L285.8,106.6 L284.9,106.6 L284.0,106.6 L283.1,106.6 L282.2,106.6 L281.3,106.6 L280.3,106.6 L279.4,106.6 L278.5,106.6 L277.6,106.6 L276.7,106.6 L275.7,106.6 L274.8,106.6 L273.9,106.6 L273.0,106.6 L272.1,106.6 L271.2,106.6 L270.2,106.6 L269.3,106.6 L268.4,106.6 L267.5,106.6 L266.6,106.6 L265.6,106.6 L264.7,106.6 L263.8,106.6 L262.9,106.6 L262.0,106.6 L261.1,106.6 L260.1,106.6 L259.2,106.6 L258.3,106.6 L257.4,106.6 L256.5,106.6 L255.5,106.6 L254.6,106.6 L253.7,106.6 L252.8,106.6 L251.9,106.6 L251.0,106.6 L250.0,106.6 L249.1,106.6 L248.2,106.6 L247.3,106.6 L246.4,106.6 L245.4,106.6 L244.5,106.6 L243.6,106.6 L242.7,106.6 L241.8,106.6 L240.9,106.6 L239.9,106.6 L239.0,106.6 L238.1,106.6 L237.2,106.6 L236.3,106.6 L235.3,106.6 L234.4,106.6 L233.5,106.6 L232.6,106.6 L231.7,106.6 L230.8,106.6 L229.8,106.6 L228.9,106.6 L228.0,106.6Z" fill="#f1f1f1"/>
<path d="M228.0,84.8 L228.9,84.5 L229.8,84.2 L230.8,83.9 L231.7,83.6 L232.6,83.3 L233.5,83.0 L234.4,82.6 L235.3,82.3 L236.3,82.0 L237.2,81.7 L238.1,81.4 L239.0,81.1 L239.9,80.8 L240.9,80.5 L241.8,80.3 L242.7,80.0 L243.6,79.6 L244.5,79.3 L245.4,78.9 L246.4,78.5 L247.3,78.1 L248.2,77.6 L249.1,77.1 L250.0,76.4 L251.0,75.8 L251.9,75.1 L252.8,74.4 L253.7,73.6 L254.6,72.9 L255.5,72.2 L256.5,71.4 L257.4,70.6 L258.3,69.7 L259.2,68.8 L260.1,67.9 L261.1,67.0 L262.0,66.0 L262.9,64.9 L263.8,63.7 L264.7,62.5 L265.6,61.4 L266.6,60.3 L267.5,59.3 L268.4,58.4 L269.3,57.5 L270.2,56.5 L271.2,55.5 L272.1,54.3 L273.0,53.0 L273.9,51.8 L274.8,50.5 L275.7,49.4 L276.7,48.2 L277.6,47.1 L278.5,46.0 L279.4,44.9 L280.3,43.7 L281.3,42.6 L282.2,41.4 L283.1,40.1 L284.0,38.8 L284.9,37.6 L285.8,36.5 L286.8,35.5 L287.7,34.6 L288.6,33.6 L289.5,32.7 L290.4,31.9 L291.4,31.1 L292.3,30.2 L293.2,29.4 L294.1,28.7 L295.0,27.9 L295.9,27.2 L296.9,26.5 L297.8,25.8 L298.7,25.2 L299.6,24.6 L300.5,24.0 L301.5,23.5 L302.4,22.9 L303.3,22.4 L304.2,21.9 L305.1,21.5 L306.1,21.1 L307.0,20.6 L307.9,20.2 L308.8,19.9 L309.7,19.5 L310.6,19.1 L311.6,18.8 L312.5,18.4 L313.4,18.1 L314.3,17.7 L315.2,17.4 L316.2,17.1 L317.1,16.8 L318.0,16.6 L318.9,16.3 L319.8,16.0 L320.7,15.8 L321.7,15.6 L322.6,15.4 L323.5,15.2 L324.4,15.1 L325.3,15.0 L326.3,14.9 L327.2,14.8 L328.1,14.7 L329.0,14.6 L329.9,14.5 L330.8,14.4 L331.8,14.4 L332.7,14.3 L333.6,14.2 L334.5,14.2 L335.4,14.1 L336.4,14.1 L337.3,14.0 L338.2,14.0 L339.1,14.0 L340.0,14.0 L340.9,14.0 L341.9,14.1 L342.8,14.1 L343.7,14.2 L344.6,14.3 L345.5,14.5 L346.5,14.6 L347.4,14.7 L348.3,14.9 L349.2,15.1 L350.1,15.2 L351.0,15.4 L352.0,15.5 L352.9,15.6 L353.8,15.8 L354.7,16.0 L355.6,16.1 L356.6,16.3 L357.5,16.5 L358.4,16.6 L359.3,16.8 L360.2,17.0 L361.1,17.1 L362.1,17.2 L363.0,17.4 L363.9,17.5 L364.8,17.7 L365.7,17.9 L366.7,18.1 L367.6,18.3 L368.5,18.6 L369.4,18.8 L370.3,19.1 L371.2,19.4 L372.2,19.8 L373.1,20.1 L374.0,20.5 L374.0,104.3 L373.1,104.3 L372.2,104.2 L371.2,104.2 L370.3,104.1 L369.4,104.1 L368.5,104.0 L367.6,104.0 L366.7,103.9 L365.7,103.9 L364.8,103.8 L363.9,103.7 L363.0,103.7 L362.1,103.6 L361.1,103.5 L360.2,103.5 L359.3,103.4 L358.4,103.3 L357.5,103.3 L356.6,103.2 L355.6,103.1 L354.7,103.1 L353.8,103.0 L352.9,102.9 L352.0,102.8 L351.0,102.7 L350.1,102.6 L349.2,102.5 L348.3,102.4 L347.4,102.3 L346.5,102.1 L345.5,102.0 L344.6,101.8 L343.7,101.6 L342.8,101.5 L341.9,101.3 L340.9,101.1 L340.0,101.0 L339.1,100.8 L338.2,100.6 L337.3,100.4 L336.4,100.2 L335.4,100.0 L334.5,99.8 L333.6,99.6 L332.7,99.4 L331.8,99.2 L330.8,99.0 L329.9,98.8 L329.0,98.6 L328.1,98.4 L327.2,98.1 L326.3,97.9 L325.3,97.7 L324.4,97.5 L323.5,97.3 L322.6,97.1 L321.7,96.9 L320.7,96.7 L319.8,96.5 L318.9,96.2 L318.0,96.0 L317.1,95.9 L316.2,95.7 L315.2,95.5 L314.3,95.3 L313.4,95.1 L312.5,95.0 L311.6,94.8 L310.6,94.6 L309.7,94.5 L308.8,94.3 L307.9,94.2 L307.0,94.1 L306.1,93.9 L305.1,93.8 L304.2,93.7 L303.3,93.6 L302.4,93.5 L301.5,93.4 L300.5,93.4 L299.6,93.3 L298.7,93.2 L297.8,93.1 L296.9,93.1 L295.9,93.0 L295.0,93.0 L294.1,93.0 L293.2,92.9 L292.3,92.9 L291.4,92.9 L290.4,92.9 L289.5,92.8 L288.6,92.8 L287.7,92.8 L286.8,92.8 L285.8,92.8 L284.9,92.8 L284.0,92.8 L283.1,92.8 L282.2,92.9 L281.3,92.9 L280.3,93.0 L279.4,93.1 L278.5,93.2 L277.6,93.3 L276.7,93.3 L275.7,93.4 L274.8,93.5 L273.9,93.6 L273.0,93.7 L272.1,93.8 L271.2,93.9 L270.2,94.0 L269.3,94.1 L268.4,94.3 L267.5,94.4 L266.6,94.5 L265.6,94.6 L264.7,94.8 L263.8,94.9 L262.9,95.1 L262.0,95.3 L261.1,95.4 L260.1,95.6 L259.2,95.8 L258.3,96.0 L257.4,96.1 L256.5,96.3 L255.5,96.5 L254.6,96.7 L253.7,96.8 L252.8,97.0 L251.9,97.2 L251.0,97.3 L250.0,97.4 L249.1,97.6 L248.2,97.7 L247.3,97.8 L246.4,98.0 L245.4,98.1 L244.5,98.3 L243.6,98.4 L242.7,98.6 L241.8,98.7 L240.9,98.9 L239.9,99.0 L239.0,99.2 L238.1,99.3 L237.2,99.5 L236.3,99.6 L235.3,99.7 L234.4,99.8 L233.5,99.9 L232.6,100.0 L231.7,100.0 L230.8,100.1 L229.8,100.2 L228.9,100.2 L228.0,100.3Z" fill="#0000ff" fill-opacity="0.19"/>
<path d="M228.0,93.6 L228.9,93.4 L229.8,93.2 L230.8,92.9 L231.7,92.7 L232.6,92.5 L233.5,92.3 L234.4,92.0 L235.3,91.8 L236.3,91.6 L237.2,91.3 L238.1,91.1 L239.0,90.9 L239.9,90.6 L240.9,90.4 L241.8,90.2 L242.7,90.0 L243.6,89.7 L244.5,89.5 L245.4,89.2 L246.4,89.0 L247.3,88.7 L248.2,88.4 L249.1,88.1 L250.0,87.8 L251.0,87.4 L251.9,87.1 L252.8,86.8 L253.7,86.5 L254.6,86.1 L255.5,85.8 L256.5,85.5 L257.4,85.2 L258.3,84.9 L259.2,84.5 L260.1,84.2 L261.1,83.9 L262.0,83.6 L262.9,83.3 L263.8,82.9 L264.7,82.6 L265.6,82.3 L266.6,82.0 L267.5,81.6 L268.4,81.3 L269.3,81.0 L270.2,80.7 L271.2,80.3 L272.1,80.0 L273.0,79.7 L273.9,79.3 L274.8,78.9 L275.7,78.5 L276.7,78.0 L277.6,77.5 L278.5,77.0 L279.4,76.5 L280.3,75.9 L281.3,75.4 L282.2,74.8 L283.1,74.2 L284.0,73.6 L284.9,73.0 L285.8,72.3 L286.8,71.7 L287.7,71.1 L288.6,70.5 L289.5,69.9 L290.4,69.3 L291.4,68.7 L292.3,68.1 L293.2,67.5 L294.1,66.9 L295.0,66.3 L295.9,65.7 L296.9,65.1 L297.8,64.5 L298.7,63.9 L299.6,63.3 L300.5,62.8 L301.5,62.2 L302.4,61.6 L303.3,61.1 L304.2,60.5 L305.1,59.9 L306.1,59.3 L307.0,58.7 L307.9,58.1 L308.8,57.4 L309.7,56.8 L310.6,56.1 L311.6,55.4 L312.5,54.7 L313.4,54.0 L314.3,53.3 L315.2,52.5 L316.2,51.8 L317.1,51.1 L318.0,50.4 L318.9,49.7 L319.8,49.0 L320.7,48.4 L321.7,47.7 L322.6,47.1 L323.5,46.5 L324.4,45.9 L325.3,45.3 L326.3,44.7 L327.2,44.1 L328.1,43.5 L329.0,43.0 L329.9,42.5 L330.8,42.0 L331.8,41.5 L332.7,41.0 L333.6,40.5 L334.5,40.0 L335.4,39.6 L336.4,39.1 L337.3,38.7 L338.2,38.3 L339.1,37.8 L340.0,37.4 L340.9,37.1 L341.9,36.7 L342.8,36.3 L343.7,35.9 L344.6,35.6 L345.5,35.2 L346.5,34.8 L347.4,34.4 L348.3,34.1 L349.2,33.7 L350.1,33.2 L351.0,32.8 L352.0,32.3 L352.9,31.9 L353.8,31.5 L354.7,31.1 L355.6,30.8 L356.6,30.6 L357.5,30.4 L358.4,30.3 L359.3,30.2 L360.2,30.1 L361.1,30.0 L362.1,29.9 L363.0,29.7 L363.9,29.6 L364.8,29.4 L365.7,29.3 L366.7,29.1 L367.6,29.0 L368.5,28.8 L369.4,28.6 L370.3,28.5 L371.2,28.3 L372.2,28.1 L373.1,27.9 L374.0,27.7 L374.0,107.0 L373.1,107.0 L372.2,107.0 L371.2,107.0 L370.3,107.0 L369.4,107.0 L368.5,107.0 L367.6,107.0 L366.7,107.0 L365.7,107.0 L364.8,107.0 L363.9,107.0 L363.0,107.0 L362.1,107.0 L361.1,107.0 L360.2,107.0 L359.3,107.0 L358.4,107.0 L357.5,107.0 L356.6,107.0 L355.6,107.0 L354.7,107.0 L353.8,107.0 L352.9,107.0 L352.0,107.0 L351.0,107.0 L350.1,107.0 L349.2,107.0 L348.3,107.0 L347.4,107.0 L346.5,107.0 L345.5,107.0 L344.6,107.0 L343.7,107.0 L342.8,107.0 L341.9,107.0 L340.9,107.0 L340.0,107.0 L339.1,107.0 L338.2,107.0 L337.3,107.0 L336.4,107.0 L335.4,107.0 L334.5,107.0 L333.6,107.0 L332.7,107.0 L331.8,107.0 L330.8,107.0 L329.9,107.0 L329.0,107.0 L328.1,107.0 L327.2,107.0 L326.3,107.0 L325.3,107.0 L324.4,107.0 L323.5,107.0 L322.6,107.0 L321.7,107.0 L320.7,107.0 L319.8,107.0 L318.9,107.0 L318.0,107.0 L317.1,107.0 L316.2,107.0 L315.2,107.0 L314.3,107.0 L313.4,107.0 L312.5,107.0 L311.6,107.0 L310.6,107.0 L309.7,107.0 L308.8,107.0 L307.9,107.0 L307.0,107.0 L306.1,107.0 L305.1,107.0 L304.2,107.0 L303.3,107.0 L302.4,107.0 L301.5,107.0 L300.5,107.0 L299.6,107.0 L298.7,107.0 L297.8,107.0 L296.9,107.0 L295.9,107.0 L295.0,107.0 L294.1,107.0 L293.2,107.0 L292.3,107.0 L291.4,107.0 L290.4,107.0 L289.5,107.0 L288.6,107.0 L287.7,107.0 L286.8,107.0 L285.8,107.0 L284.9,107.0 L284.0,107.0 L283.1,107.0 L282.2,107.0 L281.3,107.0 L280.3,107.0 L279.4,107.0 L278.5,107.0 L277.6,107.0 L276.7,107.0 L275.7,107.0 L274.8,107.0 L273.9,107.0 L273.0,107.0 L272.1,107.0 L271.2,107.0 L270.2,107.0 L269.3,107.0 L268.4,107.0 L267.5,107.0 L266.6,107.0 L265.6,107.0 L264.7,107.0 L263.8,107.0 L262.9,107.0 L262.0,107.0 L261.1,107.0 L260.1,107.0 L259.2,107.0 L258.3,107.0 L257.4,107.0 L256.5,107.0 L255.5,107.0 L254.6,107.0 L253.7,107.0 L252.8,107.0 L251.9,107.0 L251.0,107.0 L250.0,107.0 L249.1,107.0 L248.2,107.0 L247.3,107.0 L246.4,107.0 L245.4,107.0 L244.5,107.0 L243.6,107.0 L242.7,107.0 L241.8,107.0 L240.9,107.0 L239.9,107.0 L239.0,107.0 L238.1,107.0 L237.2,107.0 L236.3,107.0 L235.3,107.0 L234.4,107.0 L233.5,107.0 L232.6,107.0 L231.7,107.0 L230.8,107.0 L229.8,107.0 L228.9,107.0 L228.0,107.0Z" fill="#ff0000" fill-opacity="0.19"/>
<path d="M228.0,93.4 L228.9,93.2 L229.8,93.0 L230.8,92.9 L231.7,92.7 L232.6,92.5 L233.5,92.3 L234.4,92.1 L235.3,91.8 L236.3,91.6 L237.2,91.4 L238.1,91.2 L239.0,91.0 L239.9,90.7 L240.9,90.5 L241.8,90.2 L242.7,90.0 L243.6,89.7 L244.5,89.5 L245.4,89.2 L246.4,89.0 L247.3,88.7 L248.2,88.4 L249.1,88.1 L250.0,87.9 L251.0,87.6 L251.9,87.2 L252.8,86.9 L253.7,86.6 L254.6,86.3 L255.5,86.0 L256.5,85.7 L257.4,85.4 L258.3,85.1 L259.2,84.8 L260.1,84.4 L261.1,84.1 L262.0,83.8 L262.9,83.5 L263.8,83.1 L264.7,82.8 L265.6,82.5 L266.6,82.1 L267.5,81.8 L268.4,81.5 L269.3,81.2 L270.2,80.8 L271.2,80.5 L272.1,80.2 L273.0,79.9 L273.9,79.5 L274.8,79.2 L275.7,78.9 L276.7,78.6 L277.6,78.2 L278.5,77.9 L279.4,77.6 L280.3,77.3 L281.3,77.0 L282.2,76.7 L283.1,76.4 L284.0,76.0 L284.9,75.7 L285.8,75.4 L286.8,75.1 L287.7,74.8 L288.6,74.5 L289.5,74.2 L290.4,73.9 L291.4,73.6 L292.3,73.3 L293.2,73.1 L294.1,72.8 L295.0,72.6 L295.9,72.4 L296.9,72.2 L297.8,72.0 L298.7,71.9 L299.6,71.7 L300.5,71.5 L301.5,71.4 L302.4,71.2 L303.3,71.0 L304.2,70.9 L305.1,70.7 L306.1,70.5 L307.0,70.2 L307.9,70.1 L308.8,69.9 L309.7,69.8 L310.6,69.7 L311.6,69.6 L312.5,69.6 L313.4,69.5 L314.3,69.4 L315.2,69.4 L316.2,69.3 L317.1,69.3 L318.0,69.2 L318.9,69.2 L319.8,69.1 L320.7,69.1 L321.7,69.1 L322.6,69.1 L323.5,69.1 L324.4,69.1 L325.3,69.1 L326.3,69.1 L327.2,69.2 L328.1,69.2 L329.0,69.2 L329.9,69.3 L330.8,69.4 L331.8,69.5 L332.7,69.6 L333.6,69.8 L334.5,69.9 L335.4,70.0 L336.4,70.2 L337.3,70.3 L338.2,70.4 L339.1,70.5 L340.0,70.6 L340.9,70.7 L341.9,70.9 L342.8,71.1 L343.7,71.3 L344.6,71.5 L345.5,71.7 L346.5,71.9 L347.4,72.2 L348.3,72.4 L349.2,72.7 L350.1,72.9 L351.0,73.1 L352.0,73.4 L352.9,73.6 L353.8,73.8 L354.7,74.1 L355.6,74.3 L356.6,74.6 L357.5,74.8 L358.4,75.1 L359.3,75.3 L360.2,75.6 L361.1,75.8 L362.1,76.1 L363.0,76.3 L363.9,76.6 L364.8,76.8 L365.7,77.1 L366.7,77.4 L367.6,77.6 L368.5,77.9 L369.4,78.1 L370.3,78.4 L371.2,78.7 L372.2,79.0 L373.1,79.2 L374.0,79.5" fill="none" stroke="#2c1090" stroke-width="0.9"/>
<path d="M228.0,100.8 L228.9,100.7 L229.8,100.7 L230.8,100.6 L231.7,100.6 L232.6,100.5 L233.5,100.5 L234.4,100.4 L235.3,100.4 L236.3,100.3 L237.2,100.3 L238.1,100.2 L239.0,100.2 L239.9,100.1 L240.9,100.0 L241.8,100.0 L242.7,99.9 L243.6,99.8 L244.5,99.8 L245.4,99.7 L246.4,99.6 L247.3,99.6 L248.2,99.5 L249.1,99.4 L250.0,99.3 L251.0,99.2 L251.9,99.1 L252.8,99.1 L253.7,99.0 L254.6,98.9 L255.5,98.8 L256.5,98.7 L257.4,98.6 L258.3,98.5 L259.2,98.4 L260.1,98.3 L261.1,98.2 L262.0,98.1 L262.9,98.0 L263.8,97.9 L264.7,97.8 L265.6,97.7 L266.6,97.6 L267.5,97.5 L268.4,97.4 L269.3,97.3 L270.2,97.2 L271.2,97.1 L272.1,97.0 L273.0,96.9 L273.9,96.8 L274.8,96.7 L275.7,96.6 L276.7,96.5 L277.6,96.4 L278.5,96.3 L279.4,96.2 L280.3,96.1 L281.3,96.0 L282.2,95.9 L283.1,95.8 L284.0,95.7 L284.9,95.6 L285.8,95.5 L286.8,95.4 L287.7,95.3 L288.6,95.2 L289.5,95.1 L290.4,95.0 L291.4,94.9 L292.3,94.8 L293.2,94.7 L294.1,94.6 L295.0,94.5 L295.9,94.4 L296.9,94.2 L297.8,94.1 L298.7,94.0 L299.6,93.9 L300.5,93.8 L301.5,93.7 L302.4,93.6 L303.3,93.5 L304.2,93.4 L305.1,93.3 L306.1,93.2 L307.0,93.1 L307.9,92.9 L308.8,92.8 L309.7,92.7 L310.6,92.6 L311.6,92.5 L312.5,92.4 L313.4,92.3 L314.3,92.2 L315.2,92.1 L316.2,92.0 L317.1,91.8 L318.0,91.7 L318.9,91.6 L319.8,91.5 L320.7,91.4 L321.7,91.3 L322.6,91.2 L323.5,91.1 L324.4,90.9 L325.3,90.8 L326.3,90.7 L327.2,90.6 L328.1,90.5 L329.0,90.4 L329.9,90.3 L330.8,90.2 L331.8,90.1 L332.7,89.9 L333.6,89.8 L334.5,89.7 L335.4,89.6 L336.4,89.5 L337.3,89.4 L338.2,89.3 L339.1,89.1 L340.0,89.0 L340.9,88.9 L341.9,88.8 L342.8,88.7 L343.7,88.5 L344.6,88.4 L345.5,88.3 L346.5,88.2 L347.4,88.1 L348.3,88.0 L349.2,87.9 L350.1,87.8 L351.0,87.7 L352.0,87.6 L352.9,87.6 L353.8,87.5 L354.7,87.4 L355.6,87.4 L356.6,87.3 L357.5,87.2 L358.4,87.2 L359.3,87.1 L360.2,87.0 L361.1,87.0 L362.1,86.9 L363.0,86.8 L363.9,86.8 L364.8,86.7 L365.7,86.7 L366.7,86.6 L367.6,86.6 L368.5,86.5 L369.4,86.4 L370.3,86.4 L371.2,86.3 L372.2,86.3 L373.1,86.2 L374.0,86.2" fill="none" stroke="#aa0a18" stroke-width="0.9"/>
</g>
<rect x="228" y="16.9" width="145.60000000000002" height="90.1" fill="none" stroke="#3a3a3a" stroke-width="0.7"/>
<path d="M228.00,107.0 v-2.0 M228.00,16.9 v2.0 M235.28,107.0 v-1.2 M235.28,16.9 v1.2 M242.56,107.0 v-1.2 M242.56,16.9 v1.2 M249.84,107.0 v-1.2 M249.84,16.9 v1.2 M257.12,107.0 v-1.2 M257.12,16.9 v1.2 M264.40,107.0 v-2.0 M264.40,16.9 v2.0 M271.68,107.0 v-1.2 M271.68,16.9 v1.2 M278.96,107.0 v-1.2 M278.96,16.9 v1.2 M286.24,107.0 v-1.2 M286.24,16.9 v1.2 M293.52,107.0 v-1.2 M293.52,16.9 v1.2 M300.80,107.0 v-2.0 M300.80,16.9 v2.0 M308.08,107.0 v-1.2 M308.08,16.9 v1.2 M315.36,107.0 v-1.2 M315.36,16.9 v1.2 M322.64,107.0 v-1.2 M322.64,16.9 v1.2 M329.92,107.0 v-1.2 M329.92,16.9 v1.2 M337.20,107.0 v-2.0 M337.20,16.9 v2.0 M344.48,107.0 v-1.2 M344.48,16.9 v1.2 M351.76,107.0 v-1.2 M351.76,16.9 v1.2 M359.04,107.0 v-1.2 M359.04,16.9 v1.2 M366.32,107.0 v-1.2 M366.32,16.9 v1.2 M373.60,107.0 v-2.0 M373.60,16.9 v2.0 M228,107.00 h2.0 M373.6,107.00 h-2.0 M228,102.50 h1.2 M373.6,102.50 h-1.2 M228,97.99 h1.2 M373.6,97.99 h-1.2 M228,93.48 h1.2 M373.6,93.48 h-1.2 M228,88.98 h2.0 M373.6,88.98 h-2.0 M228,84.47 h1.2 M373.6,84.47 h-1.2 M228,79.97 h1.2 M373.6,79.97 h-1.2 M228,75.47 h1.2 M373.6,75.47 h-1.2 M228,70.96 h2.0 M373.6,70.96 h-2.0 M228,66.45 h1.2 M373.6,66.45 h-1.2 M228,61.95 h1.2 M373.6,61.95 h-1.2 M228,57.45 h1.2 M373.6,57.45 h-1.2 M228,52.94 h2.0 M373.6,52.94 h-2.0 M228,48.44 h1.2 M373.6,48.44 h-1.2 M228,43.93 h1.2 M373.6,43.93 h-1.2 M228,39.42 h1.2 M373.6,39.42 h-1.2 M228,34.92 h2.0 M373.6,34.92 h-2.0 M228,30.42 h1.2 M373.6,30.42 h-1.2 M228,25.91 h1.2 M373.6,25.91 h-1.2 M228,21.41 h1.2 M373.6,21.41 h-1.2 M228,16.90 h2.0 M373.6,16.90 h-2.0" stroke="#333" stroke-width="0.4" fill="none"/>
<text x="225.9" y="110.0" text-anchor="end" class="tl">0.00</text>
<text x="225.9" y="92.0" text-anchor="end" class="tl">0.02</text>
<text x="225.9" y="74.0" text-anchor="end" class="tl">0.04</text>
<text x="225.9" y="55.9" text-anchor="end" class="tl">0.06</text>
<text x="225.9" y="37.9" text-anchor="end" class="tl">0.08</text>
<text x="225.9" y="19.9" text-anchor="end" class="tl">0.10</text>
<text x="228.0" y="118.0" text-anchor="middle" class="tl">0.15</text>
<text x="264.4" y="118.0" text-anchor="middle" class="tl">0.20</text>
<text x="300.8" y="118.0" text-anchor="middle" class="tl">0.25</text>
<text x="337.2" y="118.0" text-anchor="middle" class="tl">0.30</text>
<text x="373.6" y="118.0" text-anchor="middle" class="tl">0.35</text>
<text x="300.8" y="131.0" text-anchor="middle" class="xl">T [GeV]</text>
<text transform="translate(204.6,62.4) rotate(-90)" class="yl" text-anchor="middle" textLength="10.4" lengthAdjust="spacingAndGlyphs"><tspan font-style="italic">ζ</tspan>/s</text>
<text x="223.4" y="9.0" class="tt" textLength="137.1" lengthAdjust="spacingAndGlyphs">Weighted, with (blue) and without (red)</text>
<text x="362.5" y="9.0" class="sg">σ</text>
<text x="368.2" y="10.0" class="aa" textLength="9" lengthAdjust="spacingAndGlyphs">AA</text>
<clipPath id="c26651"><rect x="26.5" y="151.7" width="151.0" height="92.80000000000001"/></clipPath>
<g clip-path="url(#c26651)">
<path d="M26.5,174.5 L27.5,174.6 L28.4,174.7 L29.4,174.9 L30.3,175.0 L31.3,175.1 L32.2,175.2 L33.2,175.3 L34.1,175.4 L35.1,175.6 L36.0,175.7 L37.0,175.8 L37.9,175.9 L38.9,176.0 L39.8,176.2 L40.8,176.3 L41.7,176.4 L42.7,176.5 L43.7,176.6 L44.6,176.7 L45.6,176.9 L46.5,177.0 L47.5,177.1 L48.4,177.2 L49.4,177.3 L50.3,177.4 L51.3,177.5 L52.2,177.5 L53.2,177.6 L54.1,177.7 L55.1,177.7 L56.0,177.8 L57.0,177.9 L57.9,177.9 L58.9,178.0 L59.8,178.1 L60.8,178.1 L61.8,178.2 L62.7,178.3 L63.7,178.4 L64.6,178.4 L65.6,178.5 L66.5,178.6 L67.5,178.6 L68.4,178.7 L69.4,178.8 L70.3,178.8 L71.3,178.9 L72.2,179.0 L73.2,178.9 L74.1,178.8 L75.1,178.7 L76.0,178.6 L77.0,178.5 L78.0,178.4 L78.9,178.3 L79.9,178.2 L80.8,178.1 L81.8,178.0 L82.7,177.9 L83.7,177.8 L84.6,177.7 L85.6,177.6 L86.5,177.5 L87.5,177.4 L88.4,177.2 L89.4,176.9 L90.3,176.6 L91.3,176.4 L92.2,176.1 L93.2,175.8 L94.2,175.5 L95.1,175.2 L96.1,174.8 L97.0,174.5 L98.0,174.1 L98.9,173.8 L99.9,173.4 L100.8,173.0 L101.8,172.7 L102.7,172.3 L103.7,172.0 L104.6,171.6 L105.6,171.2 L106.5,170.8 L107.5,170.5 L108.4,170.1 L109.4,169.7 L110.3,169.3 L111.3,168.9 L112.3,168.6 L113.2,168.2 L114.2,167.8 L115.1,167.4 L116.1,167.0 L117.0,166.6 L118.0,166.1 L118.9,165.7 L119.9,165.3 L120.8,164.9 L121.8,164.5 L122.7,164.0 L123.7,163.6 L124.6,163.2 L125.6,162.7 L126.5,162.2 L127.5,161.8 L128.5,161.3 L129.4,160.8 L130.4,160.4 L131.3,159.9 L132.3,159.4 L133.2,158.9 L134.2,158.5 L135.1,158.0 L136.1,157.6 L137.0,157.2 L138.0,156.8 L138.9,156.4 L139.9,156.0 L140.8,155.6 L141.8,155.3 L142.7,155.0 L143.7,154.7 L144.7,154.5 L145.6,154.2 L146.6,153.9 L147.5,153.6 L148.5,153.3 L149.4,153.0 L150.4,152.7 L151.3,152.4 L152.3,152.1 L153.2,151.8 L154.2,151.4 L155.1,151.0 L156.1,150.6 L157.0,150.3 L158.0,149.9 L158.9,149.5 L159.9,149.1 L160.8,148.7 L161.8,148.3 L162.8,147.9 L163.7,147.5 L164.7,147.1 L165.6,146.9 L166.6,146.6 L167.5,146.4 L168.5,146.2 L169.4,146.0 L170.4,145.8 L171.3,145.5 L172.3,145.3 L173.2,145.1 L174.2,144.9 L175.1,144.7 L176.1,144.4 L177.0,144.2 L178.0,144.0 L178.0,227.5 L177.0,227.4 L176.1,227.3 L175.1,227.2 L174.2,227.1 L173.2,227.0 L172.3,226.9 L171.3,226.8 L170.4,226.7 L169.4,226.6 L168.5,226.4 L167.5,226.3 L166.6,226.2 L165.6,226.1 L164.7,226.0 L163.7,225.9 L162.8,225.8 L161.8,225.7 L160.8,225.6 L159.9,225.5 L158.9,225.4 L158.0,225.3 L157.0,225.2 L156.1,225.1 L155.1,225.0 L154.2,224.9 L153.2,224.8 L152.3,224.7 L151.3,224.5 L150.4,224.4 L149.4,224.3 L148.5,224.3 L147.5,224.2 L146.6,224.1 L145.6,224.0 L144.7,223.9 L143.7,223.8 L142.7,223.7 L141.8,223.7 L140.8,223.6 L139.9,223.5 L138.9,223.4 L138.0,223.3 L137.0,223.2 L136.1,223.1 L135.1,223.1 L134.2,223.0 L133.2,222.9 L132.3,222.8 L131.3,222.7 L130.4,222.6 L129.4,222.5 L128.5,222.5 L127.5,222.4 L126.5,222.3 L125.6,222.2 L124.6,222.1 L123.7,222.0 L122.7,221.9 L121.8,221.9 L120.8,221.8 L119.9,221.7 L118.9,221.7 L118.0,221.6 L117.0,221.6 L116.1,221.5 L115.1,221.5 L114.2,221.5 L113.2,221.4 L112.3,221.4 L111.3,221.4 L110.3,221.3 L109.4,221.3 L108.4,221.3 L107.5,221.2 L106.5,221.2 L105.6,221.1 L104.6,221.1 L103.7,221.1 L102.7,221.0 L101.8,221.0 L100.8,220.9 L99.9,220.9 L98.9,220.9 L98.0,220.8 L97.0,220.8 L96.1,220.7 L95.1,220.7 L94.2,220.6 L93.2,220.6 L92.2,220.5 L91.3,220.5 L90.3,220.5 L89.4,220.4 L88.4,220.4 L87.5,220.3 L86.5,220.3 L85.6,220.2 L84.6,220.2 L83.7,220.3 L82.7,220.4 L81.8,220.5 L80.8,220.6 L79.9,220.7 L78.9,220.7 L78.0,220.8 L77.0,220.9 L76.0,221.0 L75.1,221.1 L74.1,221.2 L73.2,221.3 L72.2,221.5 L71.3,221.7 L70.3,221.9 L69.4,222.1 L68.4,222.3 L67.5,222.5 L66.5,222.7 L65.6,223.0 L64.6,223.3 L63.7,223.6 L62.7,224.0 L61.8,224.3 L60.8,224.6 L59.8,224.9 L58.9,225.3 L57.9,225.7 L57.0,226.0 L56.0,226.4 L55.1,226.8 L54.1,227.2 L53.2,227.6 L52.2,228.1 L51.3,228.5 L50.3,229.0 L49.4,229.5 L48.4,230.0 L47.5,230.5 L46.5,231.0 L45.6,231.4 L44.6,231.9 L43.7,232.3 L42.7,232.8 L41.7,233.2 L40.8,233.6 L39.8,234.1 L38.9,234.5 L37.9,234.9 L37.0,235.4 L36.0,235.8 L35.1,236.2 L34.1,236.7 L33.2,237.1 L32.2,237.5 L31.3,238.0 L30.3,238.4 L29.4,238.8 L28.4,239.2 L27.5,239.7 L26.5,240.1Z" fill="#f1f1f1"/>
<path d="M26.5,188.4 L27.5,188.6 L28.4,188.8 L29.4,189.0 L30.3,189.2 L31.3,189.4 L32.2,189.6 L33.2,189.9 L34.1,190.1 L35.1,190.3 L36.0,190.5 L37.0,190.7 L37.9,190.9 L38.9,191.1 L39.8,191.3 L40.8,191.5 L41.7,191.7 L42.7,191.9 L43.7,192.1 L44.6,192.2 L45.6,192.4 L46.5,192.6 L47.5,192.8 L48.4,193.0 L49.4,193.1 L50.3,193.3 L51.3,193.5 L52.2,193.7 L53.2,193.9 L54.1,194.1 L55.1,194.2 L56.0,194.4 L57.0,194.6 L57.9,194.7 L58.9,194.8 L59.8,194.9 L60.8,195.0 L61.8,195.1 L62.7,195.2 L63.7,195.3 L64.6,195.4 L65.6,195.5 L66.5,195.6 L67.5,195.7 L68.4,195.8 L69.4,195.9 L70.3,195.9 L71.3,196.0 L72.2,196.1 L73.2,196.2 L74.1,196.3 L75.1,196.3 L76.0,196.4 L77.0,196.5 L78.0,196.5 L78.9,196.5 L79.9,196.5 L80.8,196.5 L81.8,196.5 L82.7,196.4 L83.7,196.4 L84.6,196.4 L85.6,196.4 L86.5,196.4 L87.5,196.4 L88.4,196.3 L89.4,196.2 L90.3,196.1 L91.3,196.0 L92.2,195.9 L93.2,195.8 L94.2,195.7 L95.1,195.6 L96.1,195.5 L97.0,195.3 L98.0,195.2 L98.9,195.1 L99.9,195.0 L100.8,194.9 L101.8,194.7 L102.7,194.6 L103.7,194.4 L104.6,194.3 L105.6,194.1 L106.5,194.0 L107.5,193.8 L108.4,193.6 L109.4,193.5 L110.3,193.3 L111.3,193.2 L112.3,193.0 L113.2,192.9 L114.2,192.7 L115.1,192.6 L116.1,192.4 L117.0,192.2 L118.0,192.1 L118.9,191.9 L119.9,191.7 L120.8,191.6 L121.8,191.4 L122.7,191.2 L123.7,191.1 L124.6,190.9 L125.6,190.8 L126.5,190.6 L127.5,190.4 L128.5,190.2 L129.4,190.0 L130.4,189.8 L131.3,189.6 L132.3,189.4 L133.2,189.2 L134.2,189.0 L135.1,188.9 L136.1,188.7 L137.0,188.5 L138.0,188.3 L138.9,188.2 L139.9,188.1 L140.8,188.1 L141.8,188.0 L142.7,188.0 L143.7,188.0 L144.7,187.9 L145.6,187.9 L146.6,187.8 L147.5,187.8 L148.5,187.7 L149.4,187.7 L150.4,187.6 L151.3,187.6 L152.3,187.6 L153.2,187.5 L154.2,187.5 L155.1,187.5 L156.1,187.4 L157.0,187.4 L158.0,187.4 L158.9,187.4 L159.9,187.3 L160.8,187.3 L161.8,187.3 L162.8,187.3 L163.7,187.3 L164.7,187.2 L165.6,187.2 L166.6,187.2 L167.5,187.2 L168.5,187.1 L169.4,187.1 L170.4,187.1 L171.3,187.1 L172.3,187.0 L173.2,187.0 L174.2,187.0 L175.1,187.0 L176.1,186.9 L177.0,186.9 L178.0,186.9 L178.0,243.2 L177.0,242.9 L176.1,242.6 L175.1,242.3 L174.2,242.0 L173.2,241.7 L172.3,241.4 L171.3,241.1 L170.4,240.8 L169.4,240.5 L168.5,240.2 L167.5,239.9 L166.6,239.6 L165.6,239.3 L164.7,239.0 L163.7,238.7 L162.8,238.4 L161.8,238.1 L160.8,237.8 L159.9,237.5 L158.9,237.2 L158.0,236.9 L157.0,236.6 L156.1,236.3 L155.1,236.0 L154.2,235.7 L153.2,235.4 L152.3,235.1 L151.3,234.8 L150.4,234.6 L149.4,234.3 L148.5,234.0 L147.5,233.7 L146.6,233.4 L145.6,233.1 L144.7,232.9 L143.7,232.6 L142.7,232.3 L141.8,232.0 L140.8,231.7 L139.9,231.4 L138.9,231.2 L138.0,230.9 L137.0,230.6 L136.1,230.3 L135.1,230.1 L134.2,229.9 L133.2,229.7 L132.3,229.5 L131.3,229.2 L130.4,229.0 L129.4,228.8 L128.5,228.6 L127.5,228.3 L126.5,228.1 L125.6,227.9 L124.6,227.7 L123.7,227.5 L122.7,227.2 L121.8,227.0 L120.8,226.8 L119.9,226.6 L118.9,226.3 L118.0,226.1 L117.0,225.8 L116.1,225.6 L115.1,225.3 L114.2,225.1 L113.2,224.9 L112.3,224.6 L111.3,224.4 L110.3,224.1 L109.4,223.9 L108.4,223.7 L107.5,223.5 L106.5,223.3 L105.6,223.2 L104.6,223.0 L103.7,222.8 L102.7,222.6 L101.8,222.4 L100.8,222.2 L99.9,222.0 L98.9,221.8 L98.0,221.6 L97.0,221.5 L96.1,221.3 L95.1,221.1 L94.2,220.9 L93.2,220.7 L92.2,220.5 L91.3,220.3 L90.3,220.2 L89.4,220.1 L88.4,220.0 L87.5,220.0 L86.5,219.9 L85.6,219.9 L84.6,219.8 L83.7,219.7 L82.7,219.7 L81.8,219.6 L80.8,219.6 L79.9,219.5 L78.9,219.5 L78.0,219.4 L77.0,219.4 L76.0,219.3 L75.1,219.2 L74.1,219.2 L73.2,219.1 L72.2,219.1 L71.3,219.0 L70.3,219.0 L69.4,218.9 L68.4,218.8 L67.5,218.8 L66.5,218.7 L65.6,218.6 L64.6,218.5 L63.7,218.4 L62.7,218.3 L61.8,218.2 L60.8,218.1 L59.8,218.0 L58.9,217.9 L57.9,217.8 L57.0,217.7 L56.0,217.6 L55.1,217.6 L54.1,217.5 L53.2,217.4 L52.2,217.3 L51.3,217.2 L50.3,217.1 L49.4,217.3 L48.4,217.4 L47.5,217.6 L46.5,217.7 L45.6,217.9 L44.6,218.0 L43.7,218.1 L42.7,218.3 L41.7,218.4 L40.8,218.6 L39.8,218.7 L38.9,218.9 L37.9,219.0 L37.0,219.2 L36.0,219.3 L35.1,219.5 L34.1,219.6 L33.2,219.8 L32.2,219.9 L31.3,220.1 L30.3,220.2 L29.4,220.4 L28.4,220.5 L27.5,220.7 L26.5,220.8Z" fill="#0000ff" fill-opacity="0.19"/>
<path d="M26.5,196.9 L27.5,197.0 L28.4,197.1 L29.4,197.2 L30.3,197.4 L31.3,197.5 L32.2,197.6 L33.2,197.7 L34.1,197.8 L35.1,197.9 L36.0,198.0 L37.0,198.2 L37.9,198.3 L38.9,198.4 L39.8,198.5 L40.8,198.6 L41.7,198.7 L42.7,198.8 L43.7,198.8 L44.6,198.9 L45.6,199.0 L46.5,199.0 L47.5,199.1 L48.4,199.2 L49.4,199.3 L50.3,199.3 L51.3,199.4 L52.2,199.5 L53.2,199.6 L54.1,199.6 L55.1,199.7 L56.0,199.8 L57.0,199.9 L57.9,199.9 L58.9,199.8 L59.8,199.8 L60.8,199.7 L61.8,199.7 L62.7,199.6 L63.7,199.6 L64.6,199.5 L65.6,199.5 L66.5,199.4 L67.5,199.4 L68.4,199.2 L69.4,198.9 L70.3,198.7 L71.3,198.5 L72.2,198.2 L73.2,198.0 L74.1,197.8 L75.1,197.5 L76.0,197.3 L77.0,197.0 L78.0,196.8 L78.9,196.6 L79.9,196.4 L80.8,196.1 L81.8,195.9 L82.7,195.7 L83.7,195.4 L84.6,195.2 L85.6,195.0 L86.5,194.8 L87.5,194.5 L88.4,194.3 L89.4,194.1 L90.3,193.9 L91.3,193.6 L92.2,193.4 L93.2,193.2 L94.2,192.9 L95.1,192.5 L96.1,192.0 L97.0,191.6 L98.0,191.1 L98.9,190.7 L99.9,190.2 L100.8,189.8 L101.8,189.3 L102.7,188.9 L103.7,188.4 L104.6,187.9 L105.6,187.3 L106.5,186.8 L107.5,186.2 L108.4,185.7 L109.4,185.1 L110.3,184.5 L111.3,184.0 L112.3,183.4 L113.2,182.9 L114.2,182.3 L115.1,181.8 L116.1,181.3 L117.0,180.7 L118.0,180.2 L118.9,179.7 L119.9,179.2 L120.8,178.7 L121.8,178.1 L122.7,177.6 L123.7,177.1 L124.6,176.6 L125.6,176.1 L126.5,175.6 L127.5,175.1 L128.5,174.6 L129.4,174.1 L130.4,173.6 L131.3,173.1 L132.3,172.6 L133.2,172.1 L134.2,171.6 L135.1,171.1 L136.1,170.6 L137.0,170.1 L138.0,169.7 L138.9,169.2 L139.9,168.8 L140.8,168.5 L141.8,168.2 L142.7,167.9 L143.7,167.6 L144.7,167.3 L145.6,167.0 L146.6,166.6 L147.5,166.3 L148.5,166.0 L149.4,165.7 L150.4,165.4 L151.3,165.1 L152.3,164.8 L153.2,164.5 L154.2,164.1 L155.1,163.8 L156.1,163.4 L157.0,163.1 L158.0,162.7 L158.9,162.4 L159.9,162.0 L160.8,161.7 L161.8,161.3 L162.8,160.9 L163.7,160.6 L164.7,160.2 L165.6,159.9 L166.6,159.5 L167.5,159.2 L168.5,158.8 L169.4,158.5 L170.4,158.1 L171.3,157.8 L172.3,157.4 L173.2,157.1 L174.2,156.7 L175.1,156.4 L176.1,156.0 L177.0,155.7 L178.0,155.3 L178.0,241.6 L177.0,241.3 L176.1,241.0 L175.1,240.7 L174.2,240.4 L173.2,240.1 L172.3,239.7 L171.3,239.4 L170.4,239.1 L169.4,238.8 L168.5,238.5 L167.5,238.2 L166.6,237.9 L165.6,237.6 L164.7,237.3 L163.7,237.0 L162.8,236.7 L161.8,236.4 L160.8,236.1 L159.9,235.8 L158.9,235.5 L158.0,235.2 L157.0,234.9 L156.1,234.6 L155.1,234.3 L154.2,234.0 L153.2,233.7 L152.3,233.5 L151.3,233.2 L150.4,232.9 L149.4,232.7 L148.5,232.4 L147.5,232.1 L146.6,231.9 L145.6,231.6 L144.7,231.3 L143.7,231.0 L142.7,230.8 L141.8,230.5 L140.8,230.2 L139.9,230.0 L138.9,229.7 L138.0,229.4 L137.0,229.2 L136.1,229.0 L135.1,228.8 L134.2,228.6 L133.2,228.4 L132.3,228.2 L131.3,228.0 L130.4,227.8 L129.4,227.6 L128.5,227.4 L127.5,227.2 L126.5,227.0 L125.6,226.8 L124.6,226.6 L123.7,226.4 L122.7,226.2 L121.8,226.0 L120.8,225.8 L119.9,225.6 L118.9,225.4 L118.0,225.2 L117.0,225.0 L116.1,224.9 L115.1,224.7 L114.2,224.5 L113.2,224.3 L112.3,224.2 L111.3,224.0 L110.3,223.8 L109.4,223.6 L108.4,223.5 L107.5,223.3 L106.5,223.1 L105.6,222.9 L104.6,222.7 L103.7,222.5 L102.7,222.4 L101.8,222.2 L100.8,222.1 L99.9,222.0 L98.9,221.9 L98.0,221.8 L97.0,221.7 L96.1,221.6 L95.1,221.5 L94.2,221.4 L93.2,221.3 L92.2,221.2 L91.3,221.1 L90.3,221.0 L89.4,221.0 L88.4,220.9 L87.5,220.9 L86.5,220.9 L85.6,220.8 L84.6,220.8 L83.7,220.8 L82.7,220.7 L81.8,220.7 L80.8,220.7 L79.9,220.6 L78.9,220.6 L78.0,220.7 L77.0,220.8 L76.0,220.9 L75.1,221.0 L74.1,221.1 L73.2,221.2 L72.2,221.3 L71.3,221.4 L70.3,221.6 L69.4,221.8 L68.4,221.9 L67.5,222.1 L66.5,222.2 L65.6,222.5 L64.6,222.8 L63.7,223.0 L62.7,223.3 L61.8,223.6 L60.8,223.9 L59.8,224.1 L58.9,224.4 L57.9,224.8 L57.0,225.1 L56.0,225.5 L55.1,225.8 L54.1,226.1 L53.2,226.5 L52.2,226.9 L51.3,227.4 L50.3,227.9 L49.4,228.4 L48.4,228.8 L47.5,229.3 L46.5,229.8 L45.6,230.2 L44.6,230.6 L43.7,231.0 L42.7,231.5 L41.7,231.9 L40.8,232.3 L39.8,232.7 L38.9,233.1 L37.9,233.5 L37.0,233.9 L36.0,234.3 L35.1,234.7 L34.1,235.2 L33.2,235.6 L32.2,236.0 L31.3,236.4 L30.3,236.8 L29.4,237.2 L28.4,237.6 L27.5,238.0 L26.5,238.4Z" fill="#ff0000" fill-opacity="0.19"/>
<path d="M26.5,205.3 L27.5,205.4 L28.4,205.5 L29.4,205.7 L30.3,205.8 L31.3,205.9 L32.2,206.0 L33.2,206.1 L34.1,206.2 L35.1,206.4 L36.0,206.5 L37.0,206.6 L37.9,206.7 L38.9,206.8 L39.8,206.9 L40.8,207.1 L41.7,207.2 L42.7,207.3 L43.7,207.4 L44.6,207.5 L45.6,207.6 L46.5,207.8 L47.5,207.9 L48.4,208.0 L49.4,208.1 L50.3,208.2 L51.3,208.3 L52.2,208.5 L53.2,208.6 L54.1,208.7 L55.1,208.8 L56.0,208.9 L57.0,209.0 L57.9,209.2 L58.9,209.3 L59.8,209.4 L60.8,209.5 L61.8,209.6 L62.7,209.7 L63.7,209.8 L64.6,210.0 L65.6,210.1 L66.5,210.2 L67.5,210.3 L68.4,210.4 L69.4,210.5 L70.3,210.6 L71.3,210.7 L72.2,210.9 L73.2,211.0 L74.1,211.1 L75.1,211.2 L76.0,211.3 L77.0,211.4 L78.0,211.5 L78.9,211.7 L79.9,211.8 L80.8,211.9 L81.8,212.0 L82.7,212.1 L83.7,212.2 L84.6,212.3 L85.6,212.4 L86.5,212.5 L87.5,212.6 L88.4,212.7 L89.4,212.8 L90.3,212.9 L91.3,213.1 L92.2,213.2 L93.2,213.3 L94.2,213.4 L95.1,213.5 L96.1,213.6 L97.0,213.7 L98.0,213.8 L98.9,213.9 L99.9,214.0 L100.8,214.1 L101.8,214.2 L102.7,214.3 L103.7,214.4 L104.6,214.5 L105.6,214.6 L106.5,214.7 L107.5,214.8 L108.4,214.9 L109.4,215.0 L110.3,215.1 L111.3,215.2 L112.3,215.4 L113.2,215.5 L114.2,215.6 L115.1,215.7 L116.1,215.8 L117.0,215.9 L118.0,216.0 L118.9,216.1 L119.9,216.2 L120.8,216.3 L121.8,216.4 L122.7,216.6 L123.7,216.7 L124.6,216.8 L125.6,216.9 L126.5,217.1 L127.5,217.2 L128.5,217.3 L129.4,217.4 L130.4,217.6 L131.3,217.7 L132.3,217.8 L133.2,217.9 L134.2,218.1 L135.1,218.2 L136.1,218.3 L137.0,218.4 L138.0,218.6 L138.9,218.7 L139.9,218.9 L140.8,219.1 L141.8,219.3 L142.7,219.5 L143.7,219.7 L144.7,219.9 L145.6,220.1 L146.6,220.3 L147.5,220.5 L148.5,220.7 L149.4,220.9 L150.4,221.1 L151.3,221.3 L152.3,221.5 L153.2,221.8 L154.2,222.0 L155.1,222.2 L156.1,222.4 L157.0,222.6 L158.0,222.8 L158.9,223.0 L159.9,223.2 L160.8,223.4 L161.8,223.6 L162.8,223.8 L163.7,224.0 L164.7,224.2 L165.6,224.4 L166.6,224.6 L167.5,224.8 L168.5,225.0 L169.4,225.2 L170.4,225.5 L171.3,225.7 L172.3,225.9 L173.2,226.1 L174.2,226.3 L175.1,226.5 L176.1,226.7 L177.0,226.9 L178.0,227.1" fill="none" stroke="#2c1090" stroke-width="0.9"/>
<path d="M26.5,220.8 L27.5,220.6 L28.4,220.5 L29.4,220.3 L30.3,220.2 L31.3,220.0 L32.2,219.9 L33.2,219.7 L34.1,219.6 L35.1,219.4 L36.0,219.3 L37.0,219.1 L37.9,219.0 L38.9,218.8 L39.8,218.7 L40.8,218.5 L41.7,218.4 L42.7,218.2 L43.7,218.1 L44.6,217.9 L45.6,217.8 L46.5,217.6 L47.5,217.5 L48.4,217.3 L49.4,217.2 L50.3,217.0 L51.3,216.9 L52.2,216.7 L53.2,216.6 L54.1,216.4 L55.1,216.3 L56.0,216.1 L57.0,216.0 L57.9,215.8 L58.9,215.7 L59.8,215.6 L60.8,215.4 L61.8,215.3 L62.7,215.1 L63.7,215.0 L64.6,214.9 L65.6,214.7 L66.5,214.6 L67.5,214.4 L68.4,214.3 L69.4,214.1 L70.3,214.0 L71.3,213.9 L72.2,213.7 L73.2,213.6 L74.1,213.4 L75.1,213.3 L76.0,213.2 L77.0,213.0 L78.0,212.9 L78.9,212.7 L79.9,212.6 L80.8,212.5 L81.8,212.3 L82.7,212.2 L83.7,212.1 L84.6,212.0 L85.6,211.8 L86.5,211.7 L87.5,211.6 L88.4,211.5 L89.4,211.4 L90.3,211.3 L91.3,211.2 L92.2,211.1 L93.2,211.0 L94.2,210.8 L95.1,210.7 L96.1,210.6 L97.0,210.5 L98.0,210.4 L98.9,210.3 L99.9,210.2 L100.8,210.1 L101.8,209.9 L102.7,209.8 L103.7,209.7 L104.6,209.6 L105.6,209.5 L106.5,209.4 L107.5,209.3 L108.4,209.2 L109.4,209.0 L110.3,208.9 L111.3,208.8 L112.3,208.7 L113.2,208.6 L114.2,208.5 L115.1,208.4 L116.1,208.3 L117.0,208.2 L118.0,208.0 L118.9,207.9 L119.9,207.8 L120.8,207.7 L121.8,207.5 L122.7,207.4 L123.7,207.2 L124.6,207.1 L125.6,206.9 L126.5,206.8 L127.5,206.6 L128.5,206.5 L129.4,206.3 L130.4,206.2 L131.3,206.0 L132.3,205.9 L133.2,205.7 L134.2,205.6 L135.1,205.4 L136.1,205.3 L137.0,205.2 L138.0,205.0 L138.9,204.9 L139.9,204.8 L140.8,204.8 L141.8,204.8 L142.7,204.7 L143.7,204.7 L144.7,204.7 L145.6,204.7 L146.6,204.7 L147.5,204.7 L148.5,204.7 L149.4,204.6 L150.4,204.6 L151.3,204.6 L152.3,204.6 L153.2,204.6 L154.2,204.6 L155.1,204.6 L156.1,204.5 L157.0,204.5 L158.0,204.5 L158.9,204.5 L159.9,204.5 L160.8,204.5 L161.8,204.5 L162.8,204.4 L163.7,204.4 L164.7,204.4 L165.6,204.4 L166.6,204.4 L167.5,204.4 L168.5,204.3 L169.4,204.3 L170.4,204.3 L171.3,204.3 L172.3,204.3 L173.2,204.3 L174.2,204.3 L175.1,204.2 L176.1,204.2 L177.0,204.2 L178.0,204.2" fill="none" stroke="#aa0a18" stroke-width="0.9"/>
</g>
<rect x="26.5" y="151.7" width="151.0" height="92.80000000000001" fill="none" stroke="#3a3a3a" stroke-width="0.7"/>
<path d="M26.50,244.5 v-2.0 M26.50,151.7 v2.0 M34.05,244.5 v-1.2 M34.05,151.7 v1.2 M41.60,244.5 v-1.2 M41.60,151.7 v1.2 M49.15,244.5 v-1.2 M49.15,151.7 v1.2 M56.70,244.5 v-1.2 M56.70,151.7 v1.2 M64.25,244.5 v-2.0 M64.25,151.7 v2.0 M71.80,244.5 v-1.2 M71.80,151.7 v1.2 M79.35,244.5 v-1.2 M79.35,151.7 v1.2 M86.90,244.5 v-1.2 M86.90,151.7 v1.2 M94.45,244.5 v-1.2 M94.45,151.7 v1.2 M102.00,244.5 v-2.0 M102.00,151.7 v2.0 M109.55,244.5 v-1.2 M109.55,151.7 v1.2 M117.10,244.5 v-1.2 M117.10,151.7 v1.2 M124.65,244.5 v-1.2 M124.65,151.7 v1.2 M132.20,244.5 v-1.2 M132.20,151.7 v1.2 M139.75,244.5 v-2.0 M139.75,151.7 v2.0 M147.30,244.5 v-1.2 M147.30,151.7 v1.2 M154.85,244.5 v-1.2 M154.85,151.7 v1.2 M162.40,244.5 v-1.2 M162.40,151.7 v1.2 M169.95,244.5 v-1.2 M169.95,151.7 v1.2 M177.50,244.5 v-2.0 M177.50,151.7 v2.0 M26.5,244.50 h2.0 M177.5,244.50 h-2.0 M26.5,239.86 h1.2 M177.5,239.86 h-1.2 M26.5,235.22 h1.2 M177.5,235.22 h-1.2 M26.5,230.58 h1.2 M177.5,230.58 h-1.2 M26.5,225.94 h1.2 M177.5,225.94 h-1.2 M26.5,221.30 h2.0 M177.5,221.30 h-2.0 M26.5,216.66 h1.2 M177.5,216.66 h-1.2 M26.5,212.02 h1.2 M177.5,212.02 h-1.2 M26.5,207.38 h1.2 M177.5,207.38 h-1.2 M26.5,202.74 h1.2 M177.5,202.74 h-1.2 M26.5,198.10 h2.0 M177.5,198.10 h-2.0 M26.5,193.46 h1.2 M177.5,193.46 h-1.2 M26.5,188.82 h1.2 M177.5,188.82 h-1.2 M26.5,184.18 h1.2 M177.5,184.18 h-1.2 M26.5,179.54 h1.2 M177.5,179.54 h-1.2 M26.5,174.90 h2.0 M177.5,174.90 h-2.0 M26.5,170.26 h1.2 M177.5,170.26 h-1.2 M26.5,165.62 h1.2 M177.5,165.62 h-1.2 M26.5,160.98 h1.2 M177.5,160.98 h-1.2 M26.5,156.34 h1.2 M177.5,156.34 h-1.2 M26.5,151.70 h2.0 M177.5,151.70 h-2.0" stroke="#333" stroke-width="0.4" fill="none"/>
<text x="24.6" y="248.2" text-anchor="end" class="tl">0.0</text>
<text x="24.6" y="225.0" text-anchor="end" class="tl">0.1</text>
<text x="24.6" y="201.8" text-anchor="end" class="tl">0.2</text>
<text x="24.6" y="178.6" text-anchor="end" class="tl">0.3</text>
<text x="24.6" y="155.4" text-anchor="end" class="tl">0.4</text>
<text x="26.5" y="255.5" text-anchor="middle" class="tl">0.15</text>
<text x="64.2" y="255.5" text-anchor="middle" class="tl">0.20</text>
<text x="102.0" y="255.5" text-anchor="middle" class="tl">0.25</text>
<text x="139.8" y="255.5" text-anchor="middle" class="tl">0.30</text>
<text x="177.5" y="255.5" text-anchor="middle" class="tl">0.35</text>
<text x="102.0" y="268.5" text-anchor="middle" class="xl">T [GeV]</text>
<text transform="translate(8.9,198.5) rotate(-90)" class="yl" text-anchor="middle" textLength="10.4" lengthAdjust="spacingAndGlyphs"><tspan font-style="italic">η</tspan>/s</text>
<text x="20.6" y="144.1" class="tt" textLength="145.2" lengthAdjust="spacingAndGlyphs">Unweighted, with (blue) and without (red)</text>
<text x="167.8" y="144.1" class="sg">σ</text>
<text x="173.5" y="145.1" class="aa" textLength="9" lengthAdjust="spacingAndGlyphs">AA</text>
<clipPath id="c228153"><rect x="228" y="153.3" width="145.0" height="89.79999999999998"/></clipPath>
<g clip-path="url(#c228153)">
<path d="M228.0,182.7 L228.9,182.0 L229.8,181.4 L230.8,180.7 L231.7,180.2 L232.6,179.7 L233.5,179.3 L234.4,178.9 L235.3,178.6 L236.3,178.3 L237.2,178.0 L238.1,177.7 L239.0,177.5 L239.9,177.2 L240.9,177.0 L241.8,176.8 L242.7,176.6 L243.6,176.3 L244.5,176.1 L245.4,175.9 L246.4,175.7 L247.3,175.6 L248.2,175.5 L249.1,175.5 L250.0,175.6 L251.0,175.6 L251.9,175.7 L252.8,175.8 L253.7,175.9 L254.6,176.0 L255.5,176.1 L256.5,176.2 L257.4,176.3 L258.3,176.3 L259.2,176.3 L260.1,176.3 L261.1,176.2 L262.0,176.1 L262.9,176.0 L263.8,175.9 L264.7,175.8 L265.6,175.7 L266.6,175.7 L267.5,175.6 L268.4,175.6 L269.3,175.6 L270.2,175.6 L271.2,175.7 L272.1,175.8 L273.0,175.8 L273.9,175.9 L274.8,176.0 L275.7,176.1 L276.7,176.1 L277.6,176.2 L278.5,176.3 L279.4,176.3 L280.3,176.3 L281.3,176.3 L282.2,176.3 L283.1,176.2 L284.0,176.2 L284.9,176.2 L285.8,176.1 L286.8,176.0 L287.7,176.0 L288.6,175.9 L289.5,175.8 L290.4,175.8 L291.4,175.7 L292.3,175.6 L293.2,175.6 L294.1,175.5 L295.0,175.5 L295.9,175.4 L296.9,175.4 L297.8,175.3 L298.7,175.3 L299.6,175.3 L300.5,175.3 L301.5,175.3 L302.4,175.3 L303.3,175.3 L304.2,175.3 L305.1,175.3 L306.1,175.3 L307.0,175.3 L307.9,175.3 L308.8,175.3 L309.7,175.3 L310.6,175.4 L311.6,175.4 L312.5,175.4 L313.4,175.4 L314.3,175.4 L315.2,175.4 L316.2,175.4 L317.1,175.4 L318.0,175.4 L318.9,175.4 L319.8,175.4 L320.7,175.5 L321.7,175.5 L322.6,175.5 L323.5,175.5 L324.4,175.5 L325.3,175.5 L326.3,175.5 L327.2,175.5 L328.1,175.5 L329.0,175.5 L329.9,175.5 L330.8,175.5 L331.8,175.5 L332.7,175.5 L333.6,175.5 L334.5,175.5 L335.4,175.5 L336.4,175.5 L337.3,175.5 L338.2,175.5 L339.1,175.5 L340.0,175.5 L340.9,175.5 L341.9,175.5 L342.8,175.5 L343.7,175.5 L344.6,175.5 L345.5,175.5 L346.5,175.5 L347.4,175.5 L348.3,175.5 L349.2,175.5 L350.1,175.5 L351.0,175.5 L352.0,175.5 L352.9,175.5 L353.8,175.5 L354.7,175.5 L355.6,175.5 L356.6,175.5 L357.5,175.5 L358.4,175.5 L359.3,175.5 L360.2,175.5 L361.1,175.5 L362.1,175.5 L363.0,175.5 L363.9,175.5 L364.8,175.5 L365.7,175.5 L366.7,175.5 L367.6,175.5 L368.5,175.5 L369.4,175.5 L370.3,175.5 L371.2,175.5 L372.2,175.5 L373.1,175.5 L374.0,175.5 L374.0,242.8 L373.1,242.8 L372.2,242.8 L371.2,242.8 L370.3,242.8 L369.4,242.8 L368.5,242.8 L367.6,242.8 L366.7,242.8 L365.7,242.8 L364.8,242.8 L363.9,242.8 L363.0,242.8 L362.1,242.8 L361.1,242.8 L360.2,242.8 L359.3,242.8 L358.4,242.8 L357.5,242.8 L356.6,242.8 L355.6,242.8 L354.7,242.8 L353.8,242.8 L352.9,242.8 L352.0,242.8 L351.0,242.8 L350.1,242.8 L349.2,242.8 L348.3,242.8 L347.4,242.8 L346.5,242.8 L345.5,242.8 L344.6,242.8 L343.7,242.8 L342.8,242.8 L341.9,242.8 L340.9,242.8 L340.0,242.8 L339.1,242.8 L338.2,242.8 L337.3,242.8 L336.4,242.8 L335.4,242.8 L334.5,242.8 L333.6,242.8 L332.7,242.8 L331.8,242.8 L330.8,242.8 L329.9,242.8 L329.0,242.8 L328.1,242.8 L327.2,242.8 L326.3,242.8 L325.3,242.8 L324.4,242.8 L323.5,242.8 L322.6,242.8 L321.7,242.8 L320.7,242.8 L319.8,242.8 L318.9,242.8 L318.0,242.8 L317.1,242.8 L316.2,242.8 L315.2,242.8 L314.3,242.8 L313.4,242.8 L312.5,242.8 L311.6,242.8 L310.6,242.8 L309.7,242.8 L308.8,242.8 L307.9,242.8 L307.0,242.8 L306.1,242.8 L305.1,242.8 L304.2,242.8 L303.3,242.8 L302.4,242.8 L301.5,242.8 L300.5,242.8 L299.6,242.8 L298.7,242.8 L297.8,242.8 L296.9,242.8 L295.9,242.8 L295.0,242.8 L294.1,242.8 L293.2,242.8 L292.3,242.8 L291.4,242.8 L290.4,242.8 L289.5,242.8 L288.6,242.8 L287.7,242.8 L286.8,242.8 L285.8,242.8 L284.9,242.8 L284.0,242.8 L283.1,242.8 L282.2,242.8 L281.3,242.8 L280.3,242.8 L279.4,242.8 L278.5,242.8 L277.6,242.8 L276.7,242.8 L275.7,242.8 L274.8,242.8 L273.9,242.8 L273.0,242.8 L272.1,242.8 L271.2,242.8 L270.2,242.8 L269.3,242.8 L268.4,242.8 L267.5,242.8 L266.6,242.8 L265.6,242.8 L264.7,242.8 L263.8,242.8 L262.9,242.8 L262.0,242.8 L261.1,242.8 L260.1,242.8 L259.2,242.8 L258.3,242.8 L257.4,242.8 L256.5,242.8 L255.5,242.8 L254.6,242.8 L253.7,242.8 L252.8,242.8 L251.9,242.8 L251.0,242.8 L250.0,242.8 L249.1,242.8 L248.2,242.8 L247.3,242.8 L246.4,242.8 L245.4,242.8 L244.5,242.8 L243.6,242.8 L242.7,242.8 L241.8,242.8 L240.9,242.8 L239.9,242.8 L239.0,242.8 L238.1,242.8 L237.2,242.8 L236.3,242.8 L235.3,242.8 L234.4,242.8 L233.5,242.8 L232.6,242.8 L231.7,242.8 L230.8,242.8 L229.8,242.8 L228.9,242.8 L228.0,242.8Z" fill="#f1f1f1"/>
<path d="M228.0,236.1 L228.9,236.0 L229.8,235.8 L230.8,235.7 L231.7,235.6 L232.6,235.4 L233.5,235.3 L234.4,235.1 L235.3,235.0 L236.3,234.8 L237.2,234.7 L238.1,234.5 L239.0,234.3 L239.9,234.2 L240.9,234.0 L241.8,233.8 L242.7,233.6 L243.6,233.5 L244.5,233.3 L245.4,233.1 L246.4,232.9 L247.3,232.7 L248.2,232.4 L249.1,232.2 L250.0,232.0 L251.0,231.7 L251.9,231.5 L252.8,231.2 L253.7,230.9 L254.6,230.6 L255.5,230.3 L256.5,229.9 L257.4,229.6 L258.3,229.1 L259.2,228.6 L260.1,228.1 L261.1,227.6 L262.0,226.9 L262.9,226.3 L263.8,225.6 L264.7,224.9 L265.6,224.0 L266.6,223.1 L267.5,222.1 L268.4,221.0 L269.3,219.8 L270.2,218.5 L271.2,217.1 L272.1,215.6 L273.0,213.9 L273.9,211.9 L274.8,209.5 L275.7,206.2 L276.7,202.1 L277.6,197.6 L278.5,192.4 L279.4,186.7 L280.3,181.8 L281.3,177.4 L282.2,173.5 L283.1,169.9 L284.0,166.7 L284.9,163.9 L285.8,161.4 L286.8,159.2 L287.7,157.3 L288.6,155.7 L289.5,154.3 L290.4,153.1 L291.4,152.0 L292.3,151.0 L293.2,150.1 L294.1,149.5 L295.0,149.0 L295.9,148.7 L296.9,148.3 L297.8,148.0 L298.7,147.8 L299.6,147.5 L300.5,147.3 L301.5,147.0 L302.4,146.8 L303.3,146.7 L304.2,146.5 L305.1,146.3 L306.1,146.2 L307.0,146.1 L307.9,146.1 L308.8,146.0 L309.7,146.0 L310.6,146.0 L311.6,146.0 L312.5,146.1 L313.4,146.1 L314.3,146.2 L315.2,146.3 L316.2,146.4 L317.1,146.5 L318.0,146.6 L318.9,146.8 L319.8,146.9 L320.7,147.1 L321.7,147.3 L322.6,147.5 L323.5,147.7 L324.4,147.9 L325.3,148.1 L326.3,148.4 L327.2,148.7 L328.1,149.1 L329.0,149.6 L329.9,150.2 L330.8,150.8 L331.8,151.5 L332.7,152.2 L333.6,153.0 L334.5,154.0 L335.4,155.3 L336.4,156.8 L337.3,158.5 L338.2,160.2 L339.1,161.9 L340.0,163.7 L340.9,165.5 L341.9,167.5 L342.8,169.4 L343.7,171.4 L344.6,173.5 L345.5,175.6 L346.5,177.5 L347.4,179.2 L348.3,180.9 L349.2,182.4 L350.1,183.9 L351.0,185.3 L352.0,186.7 L352.9,188.0 L353.8,189.3 L354.7,190.6 L355.6,191.8 L356.6,193.0 L357.5,194.2 L358.4,195.4 L359.3,196.5 L360.2,197.5 L361.1,198.4 L362.1,199.2 L363.0,200.0 L363.9,200.7 L364.8,201.3 L365.7,201.9 L366.7,202.5 L367.6,203.0 L368.5,203.5 L369.4,204.0 L370.3,204.4 L371.2,204.8 L372.2,205.2 L373.1,205.5 L374.0,205.8 L374.0,240.3 L373.1,240.3 L372.2,240.3 L371.2,240.2 L370.3,240.2 L369.4,240.2 L368.5,240.2 L367.6,240.2 L366.7,240.2 L365.7,240.1 L364.8,240.1 L363.9,240.1 L363.0,240.1 L362.1,240.1 L361.1,240.0 L360.2,240.0 L359.3,240.0 L358.4,240.0 L357.5,239.9 L356.6,239.9 L355.6,239.9 L354.7,239.9 L353.8,239.8 L352.9,239.8 L352.0,239.8 L351.0,239.8 L350.1,239.7 L349.2,239.7 L348.3,239.7 L347.4,239.7 L346.5,239.6 L345.5,239.6 L344.6,239.6 L343.7,239.6 L342.8,239.5 L341.9,239.5 L340.9,239.5 L340.0,239.4 L339.1,239.4 L338.2,239.4 L337.3,239.3 L336.4,239.3 L335.4,239.3 L334.5,239.2 L333.6,239.2 L332.7,239.2 L331.8,239.1 L330.8,239.1 L329.9,239.1 L329.0,239.0 L328.1,239.0 L327.2,239.0 L326.3,238.9 L325.3,238.9 L324.4,238.9 L323.5,238.8 L322.6,238.8 L321.7,238.7 L320.7,238.7 L319.8,238.7 L318.9,238.6 L318.0,238.6 L317.1,238.6 L316.2,238.5 L315.2,238.5 L314.3,238.5 L313.4,238.4 L312.5,238.4 L311.6,238.4 L310.6,238.3 L309.7,238.3 L308.8,238.3 L307.9,238.2 L307.0,238.2 L306.1,238.1 L305.1,238.0 L304.2,237.9 L303.3,237.8 L302.4,237.7 L301.5,237.5 L300.5,237.3 L299.6,237.2 L298.7,237.0 L297.8,236.9 L296.9,236.8 L295.9,236.7 L295.0,236.6 L294.1,236.5 L293.2,236.4 L292.3,236.3 L291.4,236.2 L290.4,236.2 L289.5,236.1 L288.6,236.1 L287.7,236.1 L286.8,236.1 L285.8,236.2 L284.9,236.4 L284.0,236.5 L283.1,236.7 L282.2,236.9 L281.3,237.2 L280.3,237.4 L279.4,237.6 L278.5,237.8 L277.6,238.0 L276.7,238.1 L275.7,238.2 L274.8,238.3 L273.9,238.4 L273.0,238.6 L272.1,238.7 L271.2,238.8 L270.2,238.8 L269.3,238.9 L268.4,239.0 L267.5,239.1 L266.6,239.2 L265.6,239.2 L264.7,239.3 L263.8,239.4 L262.9,239.4 L262.0,239.5 L261.1,239.5 L260.1,239.6 L259.2,239.7 L258.3,239.7 L257.4,239.8 L256.5,239.8 L255.5,239.9 L254.6,239.9 L253.7,240.0 L252.8,240.1 L251.9,240.1 L251.0,240.2 L250.0,240.2 L249.1,240.3 L248.2,240.3 L247.3,240.4 L246.4,240.4 L245.4,240.4 L244.5,240.5 L243.6,240.5 L242.7,240.6 L241.8,240.6 L240.9,240.6 L239.9,240.7 L239.0,240.7 L238.1,240.7 L237.2,240.8 L236.3,240.8 L235.3,240.8 L234.4,240.8 L233.5,240.8 L232.6,240.9 L231.7,240.9 L230.8,240.9 L229.8,240.9 L228.9,240.9 L228.0,240.9Z" fill="#0000ff" fill-opacity="0.19"/>
<path d="M228.0,238.1 L228.9,238.0 L229.8,238.0 L230.8,237.9 L231.7,237.8 L232.6,237.7 L233.5,237.7 L234.4,237.5 L235.3,237.4 L236.3,237.3 L237.2,237.2 L238.1,237.1 L239.0,237.0 L239.9,236.8 L240.9,236.7 L241.8,236.5 L242.7,236.4 L243.6,236.3 L244.5,236.1 L245.4,235.9 L246.4,235.8 L247.3,235.6 L248.2,235.5 L249.1,235.3 L250.0,235.1 L251.0,234.9 L251.9,234.7 L252.8,234.5 L253.7,234.2 L254.6,234.0 L255.5,233.7 L256.5,233.5 L257.4,233.2 L258.3,232.8 L259.2,232.5 L260.1,232.1 L261.1,231.7 L262.0,231.3 L262.9,230.8 L263.8,230.3 L264.7,229.8 L265.6,229.3 L266.6,228.7 L267.5,228.1 L268.4,227.5 L269.3,226.8 L270.2,226.0 L271.2,225.2 L272.1,224.4 L273.0,223.5 L273.9,222.5 L274.8,221.4 L275.7,220.3 L276.7,219.0 L277.6,217.6 L278.5,216.2 L279.4,214.7 L280.3,213.0 L281.3,211.1 L282.2,209.1 L283.1,207.1 L284.0,204.9 L284.9,202.4 L285.8,199.9 L286.8,197.6 L287.7,195.8 L288.6,194.0 L289.5,191.9 L290.4,189.7 L291.4,187.6 L292.3,185.7 L293.2,184.3 L294.1,183.1 L295.0,182.1 L295.9,181.1 L296.9,180.2 L297.8,179.2 L298.7,178.3 L299.6,177.3 L300.5,176.3 L301.5,175.3 L302.4,174.4 L303.3,173.6 L304.2,172.9 L305.1,172.1 L306.1,171.6 L307.0,171.4 L307.9,171.7 L308.8,172.3 L309.7,173.0 L310.6,173.9 L311.6,174.9 L312.5,176.2 L313.4,177.6 L314.3,179.0 L315.2,180.2 L316.2,181.3 L317.1,182.3 L318.0,183.3 L318.9,184.4 L319.8,185.5 L320.7,186.6 L321.7,187.9 L322.6,189.2 L323.5,190.5 L324.4,191.9 L325.3,193.3 L326.3,194.9 L327.2,196.6 L328.1,198.2 L329.0,199.6 L329.9,200.9 L330.8,202.1 L331.8,203.2 L332.7,204.2 L333.6,205.2 L334.5,206.2 L335.4,207.0 L336.4,207.8 L337.3,208.5 L338.2,209.1 L339.1,209.6 L340.0,210.1 L340.9,210.6 L341.9,211.1 L342.8,211.5 L343.7,211.8 L344.6,212.2 L345.5,212.4 L346.5,212.7 L347.4,212.9 L348.3,213.1 L349.2,213.3 L350.1,213.5 L351.0,213.7 L352.0,213.8 L352.9,213.9 L353.8,213.9 L354.7,213.9 L355.6,213.8 L356.6,213.7 L357.5,213.6 L358.4,213.5 L359.3,213.3 L360.2,213.2 L361.1,213.0 L362.1,212.8 L363.0,212.6 L363.9,212.5 L364.8,212.3 L365.7,212.1 L366.7,211.9 L367.6,211.7 L368.5,211.5 L369.4,211.3 L370.3,211.1 L371.2,210.8 L372.2,210.6 L373.1,210.4 L374.0,210.1 L374.0,242.2 L373.1,242.2 L372.2,242.2 L371.2,242.2 L370.3,242.2 L369.4,242.2 L368.5,242.2 L367.6,242.2 L366.7,242.2 L365.7,242.2 L364.8,242.2 L363.9,242.2 L363.0,242.3 L362.1,242.3 L361.1,242.3 L360.2,242.3 L359.3,242.3 L358.4,242.3 L357.5,242.3 L356.6,242.3 L355.6,242.3 L354.7,242.3 L353.8,242.3 L352.9,242.3 L352.0,242.3 L351.0,242.3 L350.1,242.3 L349.2,242.3 L348.3,242.3 L347.4,242.3 L346.5,242.3 L345.5,242.3 L344.6,242.3 L343.7,242.3 L342.8,242.3 L341.9,242.4 L340.9,242.4 L340.0,242.4 L339.1,242.4 L338.2,242.4 L337.3,242.4 L336.4,242.4 L335.4,242.4 L334.5,242.4 L333.6,242.4 L332.7,242.4 L331.8,242.4 L330.8,242.4 L329.9,242.4 L329.0,242.4 L328.1,242.4 L327.2,242.4 L326.3,242.4 L325.3,242.4 L324.4,242.4 L323.5,242.4 L322.6,242.4 L321.7,242.5 L320.7,242.5 L319.8,242.5 L318.9,242.5 L318.0,242.5 L317.1,242.5 L316.2,242.5 L315.2,242.5 L314.3,242.5 L313.4,242.5 L312.5,242.5 L311.6,242.5 L310.6,242.5 L309.7,242.5 L308.8,242.5 L307.9,242.5 L307.0,242.5 L306.1,242.5 L305.1,242.5 L304.2,242.5 L303.3,242.5 L302.4,242.5 L301.5,242.5 L300.5,242.6 L299.6,242.6 L298.7,242.6 L297.8,242.6 L296.9,242.6 L295.9,242.6 L295.0,242.6 L294.1,242.6 L293.2,242.6 L292.3,242.6 L291.4,242.6 L290.4,242.6 L289.5,242.6 L288.6,242.6 L287.7,242.6 L286.8,242.6 L285.8,242.6 L284.9,242.6 L284.0,242.6 L283.1,242.6 L282.2,242.6 L281.3,242.6 L280.3,242.6 L279.4,242.7 L278.5,242.7 L277.6,242.7 L276.7,242.7 L275.7,242.7 L274.8,242.7 L273.9,242.7 L273.0,242.7 L272.1,242.7 L271.2,242.7 L270.2,242.7 L269.3,242.7 L268.4,242.7 L267.5,242.7 L266.6,242.7 L265.6,242.7 L264.7,242.7 L263.8,242.7 L262.9,242.7 L262.0,242.7 L261.1,242.7 L260.1,242.7 L259.2,242.8 L258.3,242.8 L257.4,242.8 L256.5,242.8 L255.5,242.8 L254.6,242.8 L253.7,242.8 L252.8,242.8 L251.9,242.8 L251.0,242.8 L250.0,242.8 L249.1,242.8 L248.2,242.8 L247.3,242.8 L246.4,242.8 L245.4,242.8 L244.5,242.8 L243.6,242.8 L242.7,242.8 L241.8,242.8 L240.9,242.8 L239.9,242.8 L239.0,242.8 L238.1,242.9 L237.2,242.9 L236.3,242.9 L235.3,242.9 L234.4,242.9 L233.5,242.9 L232.6,242.9 L231.7,242.9 L230.8,242.9 L229.8,242.9 L228.9,242.9 L228.0,242.9Z" fill="#ff0000" fill-opacity="0.19"/>
<path d="M228.0,239.7 L228.9,239.6 L229.8,239.6 L230.8,239.5 L231.7,239.4 L232.6,239.4 L233.5,239.3 L234.4,239.2 L235.3,239.1 L236.3,239.0 L237.2,238.9 L238.1,238.8 L239.0,238.7 L239.9,238.6 L240.9,238.5 L241.8,238.4 L242.7,238.3 L243.6,238.2 L244.5,238.1 L245.4,237.9 L246.4,237.8 L247.3,237.6 L248.2,237.5 L249.1,237.3 L250.0,237.2 L251.0,237.0 L251.9,236.8 L252.8,236.6 L253.7,236.4 L254.6,236.2 L255.5,236.0 L256.5,235.8 L257.4,235.6 L258.3,235.3 L259.2,235.1 L260.1,234.8 L261.1,234.5 L262.0,234.2 L262.9,233.9 L263.8,233.5 L264.7,233.2 L265.6,232.8 L266.6,232.4 L267.5,231.9 L268.4,231.5 L269.3,230.9 L270.2,230.4 L271.2,229.8 L272.1,229.2 L273.0,228.6 L273.9,227.9 L274.8,227.2 L275.7,226.4 L276.7,225.7 L277.6,224.8 L278.5,224.0 L279.4,223.1 L280.3,222.2 L281.3,221.2 L282.2,220.2 L283.1,219.2 L284.0,218.1 L284.9,217.1 L285.8,216.0 L286.8,214.8 L287.7,213.7 L288.6,212.4 L289.5,211.2 L290.4,209.8 L291.4,208.5 L292.3,207.1 L293.2,205.8 L294.1,204.6 L295.0,203.5 L295.9,202.5 L296.9,201.5 L297.8,200.6 L298.7,199.9 L299.6,199.1 L300.5,198.5 L301.5,197.9 L302.4,197.4 L303.3,197.0 L304.2,196.7 L305.1,196.5 L306.1,196.4 L307.0,196.5 L307.9,196.7 L308.8,197.0 L309.7,197.5 L310.6,198.1 L311.6,198.9 L312.5,199.8 L313.4,200.8 L314.3,202.0 L315.2,203.2 L316.2,204.6 L317.1,205.9 L318.0,207.3 L318.9,208.7 L319.8,210.1 L320.7,211.4 L321.7,212.6 L322.6,213.9 L323.5,215.0 L324.4,216.2 L325.3,217.3 L326.3,218.5 L327.2,219.6 L328.1,220.7 L329.0,221.8 L329.9,222.8 L330.8,223.8 L331.8,224.7 L332.7,225.6 L333.6,226.5 L334.5,227.3 L335.4,228.0 L336.4,228.7 L337.3,229.4 L338.2,230.0 L339.1,230.6 L340.0,231.1 L340.9,231.6 L341.9,232.1 L342.8,232.5 L343.7,232.9 L344.6,233.3 L345.5,233.7 L346.5,234.0 L347.4,234.3 L348.3,234.6 L349.2,234.9 L350.1,235.1 L351.0,235.4 L352.0,235.6 L352.9,235.8 L353.8,236.0 L354.7,236.2 L355.6,236.3 L356.6,236.5 L357.5,236.6 L358.4,236.8 L359.3,236.9 L360.2,237.1 L361.1,237.2 L362.1,237.3 L363.0,237.4 L363.9,237.6 L364.8,237.7 L365.7,237.8 L366.7,237.9 L367.6,238.0 L368.5,238.2 L369.4,238.3 L370.3,238.4 L371.2,238.6 L372.2,238.8 L373.1,238.9 L374.0,239.1" fill="none" stroke="#2c1090" stroke-width="0.9"/>
<path d="M228.0,242.1 L228.9,242.1 L229.8,242.1 L230.8,242.1 L231.7,242.1 L232.6,242.0 L233.5,242.0 L234.4,242.0 L235.3,242.0 L236.3,242.0 L237.2,242.0 L238.1,242.0 L239.0,241.9 L239.9,241.9 L240.9,241.9 L241.8,241.9 L242.7,241.9 L243.6,241.8 L244.5,241.8 L245.4,241.8 L246.4,241.8 L247.3,241.7 L248.2,241.7 L249.1,241.7 L250.0,241.7 L251.0,241.6 L251.9,241.6 L252.8,241.6 L253.7,241.5 L254.6,241.5 L255.5,241.5 L256.5,241.4 L257.4,241.4 L258.3,241.4 L259.2,241.3 L260.1,241.3 L261.1,241.3 L262.0,241.2 L262.9,241.2 L263.8,241.1 L264.7,241.1 L265.6,241.1 L266.6,241.0 L267.5,241.0 L268.4,240.9 L269.3,240.9 L270.2,240.8 L271.2,240.8 L272.1,240.7 L273.0,240.7 L273.9,240.6 L274.8,240.6 L275.7,240.5 L276.7,240.5 L277.6,240.4 L278.5,240.4 L279.4,240.3 L280.3,240.3 L281.3,240.2 L282.2,240.2 L283.1,240.1 L284.0,240.0 L284.9,240.0 L285.8,239.9 L286.8,239.9 L287.7,239.8 L288.6,239.7 L289.5,239.7 L290.4,239.6 L291.4,239.5 L292.3,239.5 L293.2,239.4 L294.1,239.3 L295.0,239.3 L295.9,239.2 L296.9,239.1 L297.8,239.1 L298.7,239.0 L299.6,239.0 L300.5,238.9 L301.5,238.9 L302.4,238.8 L303.3,238.8 L304.2,238.8 L305.1,238.7 L306.1,238.7 L307.0,238.7 L307.9,238.7 L308.8,238.6 L309.7,238.6 L310.6,238.6 L311.6,238.6 L312.5,238.7 L313.4,238.7 L314.3,238.7 L315.2,238.7 L316.2,238.7 L317.1,238.8 L318.0,238.8 L318.9,238.8 L319.8,238.9 L320.7,238.9 L321.7,238.9 L322.6,239.0 L323.5,239.0 L324.4,239.1 L325.3,239.1 L326.3,239.2 L327.2,239.2 L328.1,239.3 L329.0,239.4 L329.9,239.4 L330.8,239.5 L331.8,239.5 L332.7,239.6 L333.6,239.7 L334.5,239.7 L335.4,239.8 L336.4,239.9 L337.3,239.9 L338.2,240.0 L339.1,240.1 L340.0,240.1 L340.9,240.2 L341.9,240.2 L342.8,240.3 L343.7,240.4 L344.6,240.4 L345.5,240.5 L346.5,240.5 L347.4,240.6 L348.3,240.6 L349.2,240.7 L350.1,240.7 L351.0,240.8 L352.0,240.8 L352.9,240.8 L353.8,240.9 L354.7,240.9 L355.6,240.9 L356.6,241.0 L357.5,241.0 L358.4,241.0 L359.3,241.0 L360.2,241.0 L361.1,241.0 L362.1,241.0 L363.0,241.0 L363.9,241.0 L364.8,241.0 L365.7,241.0 L366.7,240.9 L367.6,240.9 L368.5,240.9 L369.4,240.8 L370.3,240.8 L371.2,240.7 L372.2,240.6 L373.1,240.6 L374.0,240.5" fill="none" stroke="#aa0a18" stroke-width="0.9"/>
</g>
<rect x="228" y="153.3" width="145.0" height="89.79999999999998" fill="none" stroke="#3a3a3a" stroke-width="0.7"/>
<path d="M228.00,243.1 v-2.0 M228.00,153.3 v2.0 M235.25,243.1 v-1.2 M235.25,153.3 v1.2 M242.50,243.1 v-1.2 M242.50,153.3 v1.2 M249.75,243.1 v-1.2 M249.75,153.3 v1.2 M257.00,243.1 v-1.2 M257.00,153.3 v1.2 M264.25,243.1 v-2.0 M264.25,153.3 v2.0 M271.50,243.1 v-1.2 M271.50,153.3 v1.2 M278.75,243.1 v-1.2 M278.75,153.3 v1.2 M286.00,243.1 v-1.2 M286.00,153.3 v1.2 M293.25,243.1 v-1.2 M293.25,153.3 v1.2 M300.50,243.1 v-2.0 M300.50,153.3 v2.0 M307.75,243.1 v-1.2 M307.75,153.3 v1.2 M315.00,243.1 v-1.2 M315.00,153.3 v1.2 M322.25,243.1 v-1.2 M322.25,153.3 v1.2 M329.50,243.1 v-1.2 M329.50,153.3 v1.2 M336.75,243.1 v-2.0 M336.75,153.3 v2.0 M344.00,243.1 v-1.2 M344.00,153.3 v1.2 M351.25,243.1 v-1.2 M351.25,153.3 v1.2 M358.50,243.1 v-1.2 M358.50,153.3 v1.2 M365.75,243.1 v-1.2 M365.75,153.3 v1.2 M373.00,243.1 v-2.0 M373.00,153.3 v2.0 M228,243.10 h2.0 M373.0,243.10 h-2.0 M228,238.61 h1.2 M373.0,238.61 h-1.2 M228,234.12 h1.2 M373.0,234.12 h-1.2 M228,229.63 h1.2 M373.0,229.63 h-1.2 M228,225.14 h2.0 M373.0,225.14 h-2.0 M228,220.65 h1.2 M373.0,220.65 h-1.2 M228,216.16 h1.2 M373.0,216.16 h-1.2 M228,211.67 h1.2 M373.0,211.67 h-1.2 M228,207.18 h2.0 M373.0,207.18 h-2.0 M228,202.69 h1.2 M373.0,202.69 h-1.2 M228,198.20 h1.2 M373.0,198.20 h-1.2 M228,193.71 h1.2 M373.0,193.71 h-1.2 M228,189.22 h2.0 M373.0,189.22 h-2.0 M228,184.73 h1.2 M373.0,184.73 h-1.2 M228,180.24 h1.2 M373.0,180.24 h-1.2 M228,175.75 h1.2 M373.0,175.75 h-1.2 M228,171.26 h2.0 M373.0,171.26 h-2.0 M228,166.77 h1.2 M373.0,166.77 h-1.2 M228,162.28 h1.2 M373.0,162.28 h-1.2 M228,157.79 h1.2 M373.0,157.79 h-1.2 M228,153.30 h2.0 M373.0,153.30 h-2.0" stroke="#333" stroke-width="0.4" fill="none"/>
<text x="225.9" y="246.5" text-anchor="end" class="tl">0.00</text>
<text x="225.9" y="228.5" text-anchor="end" class="tl">0.02</text>
<text x="225.9" y="210.6" text-anchor="end" class="tl">0.04</text>
<text x="225.9" y="192.6" text-anchor="end" class="tl">0.06</text>
<text x="225.9" y="174.7" text-anchor="end" class="tl">0.08</text>
<text x="225.9" y="156.7" text-anchor="end" class="tl">0.10</text>
<text x="228.0" y="254.1" text-anchor="middle" class="tl">0.15</text>
<text x="264.2" y="254.1" text-anchor="middle" class="tl">0.20</text>
<text x="300.5" y="254.1" text-anchor="middle" class="tl">0.25</text>
<text x="336.8" y="254.1" text-anchor="middle" class="tl">0.30</text>
<text x="373.0" y="254.1" text-anchor="middle" class="tl">0.35</text>
<text x="300.5" y="267.1" text-anchor="middle" class="xl">T [GeV]</text>
<text transform="translate(204.6,198.6) rotate(-90)" class="yl" text-anchor="middle" textLength="10.4" lengthAdjust="spacingAndGlyphs"><tspan font-style="italic">ζ</tspan>/s</text>
<text x="218.5" y="145.7" class="tt" textLength="144.9" lengthAdjust="spacingAndGlyphs">Unweighted, with (blue) and without (red)</text>
<text x="365.4" y="145.7" class="sg">σ</text>
<text x="371.1" y="146.7" class="aa" textLength="9" lengthAdjust="spacingAndGlyphs">AA</text>
</svg>
</body></html>
